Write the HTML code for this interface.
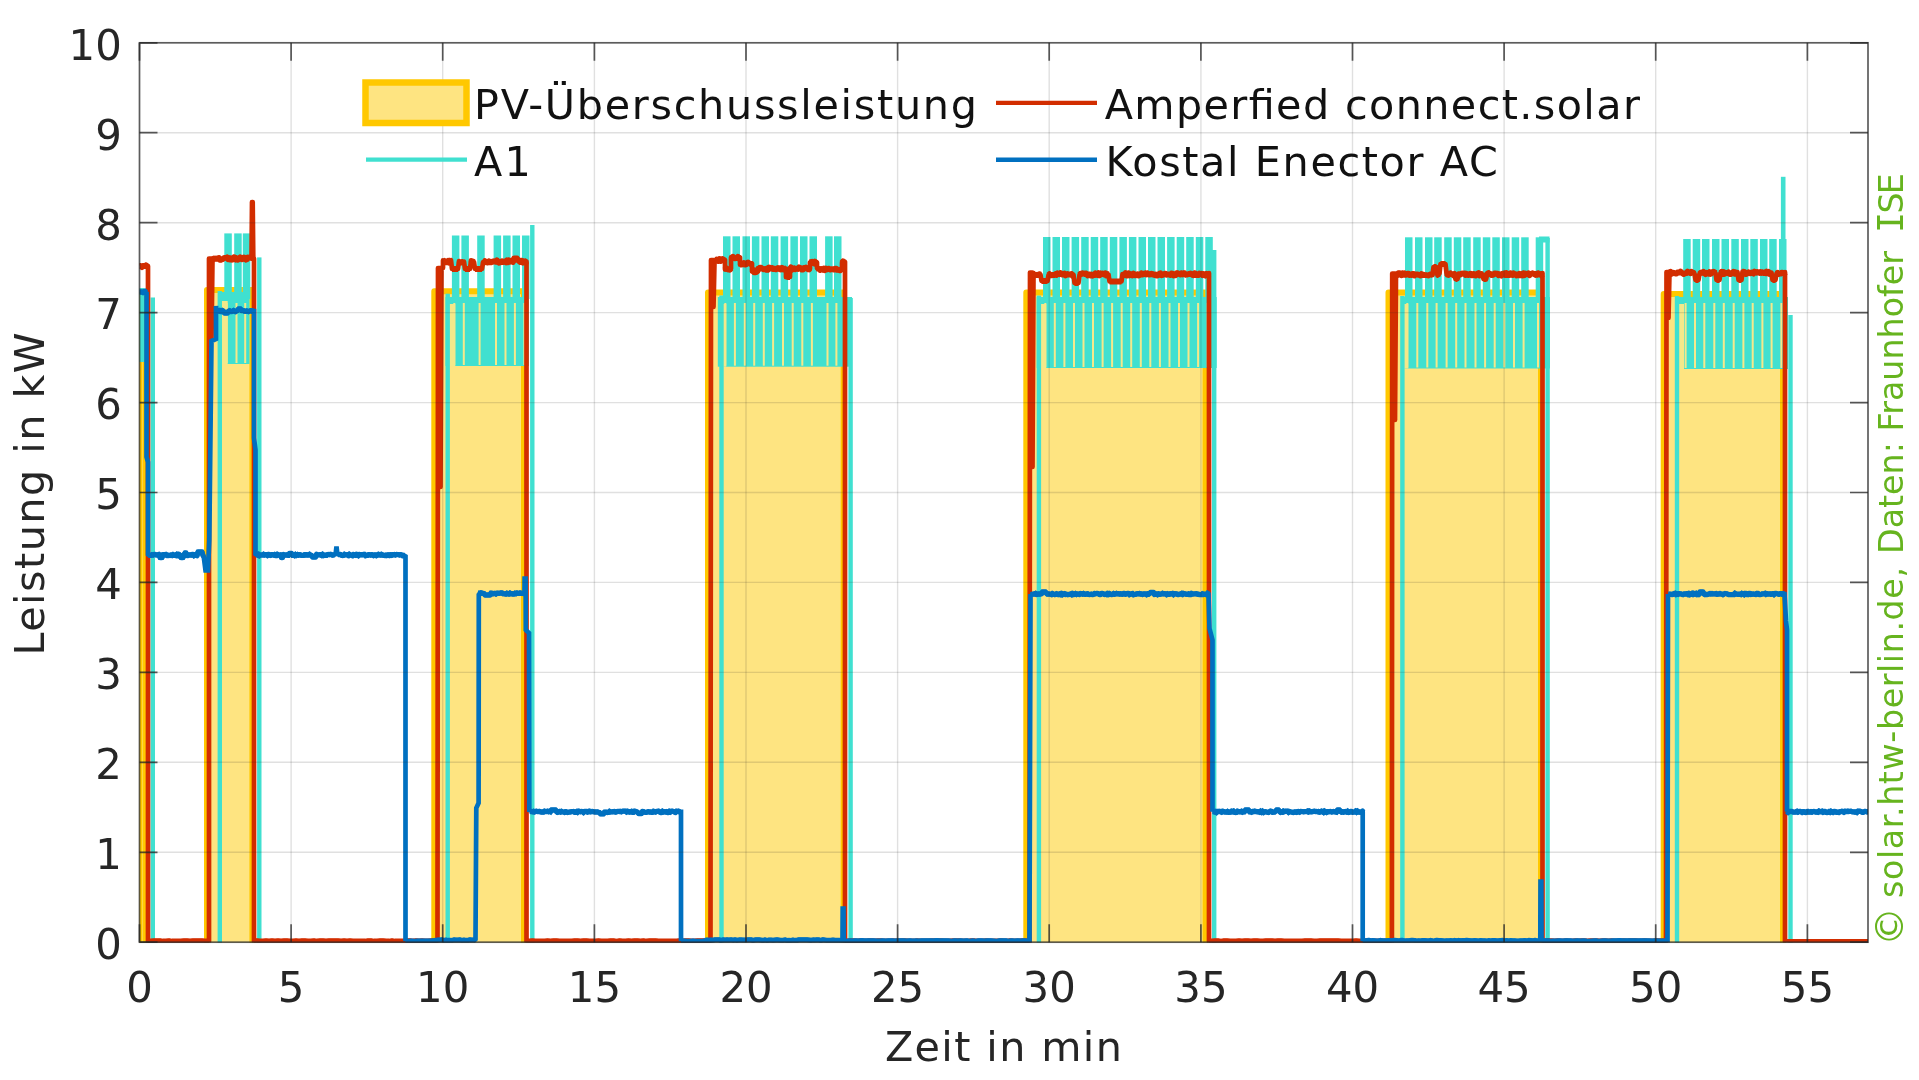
<!DOCTYPE html>
<html><head><meta charset="utf-8"><title>Leistung</title>
<style>html,body{margin:0;padding:0;background:#fff;overflow:hidden}svg{display:block;will-change:transform}</style>
</head><body>
<svg width="1919" height="1080" viewBox="0 0 1919 1080">
<rect width="1919" height="1080" fill="#fff"/>
<defs><clipPath id="cp"><rect x="139.5" y="42.8" width="1728.5" height="899.8"/></clipPath></defs>
<g clip-path="url(#cp)">
<g id="pv"><path d="M139.5 947.2 L139.5 295 L146 295 L146 947.2" fill="#FEE481" stroke="#FFC800" stroke-width="6" stroke-linejoin="round"/><path d="M207 947.2 L207 290 L252.4 290 L252.4 947.2" fill="#FEE481" stroke="#FFC800" stroke-width="6" stroke-linejoin="round"/><path d="M434.3 947.2 L434.3 291.2 L524 291.2 L524 947.2" fill="#FEE481" stroke="#FFC800" stroke-width="6" stroke-linejoin="round"/><path d="M708 947.2 L708 292.5 L843.7 292.5 L843.7 947.2" fill="#FEE481" stroke="#FFC800" stroke-width="6" stroke-linejoin="round"/><path d="M1026.3 947.2 L1026.3 292.5 L1205.6 292.5 L1205.6 947.2" fill="#FEE481" stroke="#FFC800" stroke-width="6" stroke-linejoin="round"/><path d="M1388.5 947.2 L1388.5 292.5 L1541 292.5 L1541 947.2" fill="#FEE481" stroke="#FFC800" stroke-width="6" stroke-linejoin="round"/><path d="M1663.7 947.2 L1663.7 294 L1783 294 L1783 947.2" fill="#FEE481" stroke="#FFC800" stroke-width="6" stroke-linejoin="round"/></g>
<g id="a1" fill="#40E0D0"><rect x="138.7" y="288" width="5.8" height="74"/><rect x="150.6" y="297.5" width="4.4" height="649.7"/><rect x="217.6" y="291" width="4.4" height="656.2"/><rect x="218.6" y="292" width="30.9" height="72"/><rect x="224.3" y="233.4" width="7.5" height="65.6"/><rect x="234.2" y="233.4" width="7.5" height="65.6"/><rect x="242.8" y="233.4" width="7.5" height="65.6"/><rect x="257.1" y="257.4" width="4.4" height="689.8"/><rect x="445.5" y="293.7" width="4.4" height="653.5"/><rect x="445.5" y="297" width="83.5" height="69"/><rect x="451.9" y="235.5" width="7.5" height="63.5"/><rect x="461.4" y="235.5" width="7.5" height="63.5"/><rect x="477.2" y="235.5" width="7.5" height="63.5"/><rect x="493.6" y="235.5" width="7.5" height="63.5"/><rect x="503.1" y="235.5" width="7.5" height="63.5"/><rect x="512.5" y="235.5" width="7.5" height="63.5"/><rect x="522" y="235.5" width="7.5" height="63.5"/><rect x="530.1" y="225" width="4.4" height="722.2"/><rect x="719.3" y="295.5" width="4.4" height="651.7"/><rect x="717.8" y="297" width="134.2" height="69.7"/><rect x="723" y="236.3" width="7.5" height="62.7"/><rect x="732.5" y="236.3" width="7.5" height="62.7"/><rect x="742.5" y="236.3" width="7.5" height="62.7"/><rect x="751.9" y="236.3" width="7.5" height="62.7"/><rect x="761.5" y="236.3" width="7.5" height="62.7"/><rect x="770.8" y="236.3" width="7.5" height="62.7"/><rect x="780.6" y="236.3" width="7.5" height="62.7"/><rect x="790.4" y="236.3" width="7.5" height="62.7"/><rect x="800" y="236.3" width="7.5" height="62.7"/><rect x="809.5" y="236.3" width="7.5" height="62.7"/><rect x="825.1" y="236.3" width="7.5" height="62.7"/><rect x="834" y="236.3" width="7.5" height="62.7"/><rect x="848.4" y="298" width="4.4" height="649.2"/><rect x="1036.7" y="295.6" width="4.4" height="651.6"/><rect x="1036.7" y="297" width="180" height="71"/><rect x="1043" y="237" width="7.5" height="62"/><rect x="1052.5" y="237" width="7.5" height="62"/><rect x="1062" y="237" width="7.5" height="62"/><rect x="1071.6" y="237" width="7.5" height="62"/><rect x="1081.2" y="237" width="7.5" height="62"/><rect x="1090.7" y="237" width="7.5" height="62"/><rect x="1100.2" y="237" width="7.5" height="62"/><rect x="1109.8" y="237" width="7.5" height="62"/><rect x="1119.4" y="237" width="7.5" height="62"/><rect x="1128.9" y="237" width="7.5" height="62"/><rect x="1138.5" y="237" width="7.5" height="62"/><rect x="1148" y="237" width="7.5" height="62"/><rect x="1157.5" y="237" width="7.5" height="62"/><rect x="1167.1" y="237" width="7.5" height="62"/><rect x="1176.7" y="237" width="7.5" height="62"/><rect x="1186.2" y="237" width="7.5" height="62"/><rect x="1195.8" y="237" width="7.5" height="62"/><rect x="1205.3" y="237" width="7.5" height="62"/><rect x="1212" y="250" width="4.4" height="697.2"/><rect x="1400.2" y="296" width="4.4" height="651.2"/><rect x="1401" y="297" width="149" height="71.5"/><rect x="1405" y="237.3" width="7.5" height="61.7"/><rect x="1415" y="237.3" width="7.5" height="61.7"/><rect x="1425" y="237.3" width="7.5" height="61.7"/><rect x="1434.2" y="237.3" width="7.5" height="61.7"/><rect x="1444.2" y="237.3" width="7.5" height="61.7"/><rect x="1453.8" y="237.3" width="7.5" height="61.7"/><rect x="1463.2" y="237.3" width="7.5" height="61.7"/><rect x="1473.2" y="237.3" width="7.5" height="61.7"/><rect x="1482.8" y="237.3" width="7.5" height="61.7"/><rect x="1492.3" y="237.3" width="7.5" height="61.7"/><rect x="1502" y="237.3" width="7.5" height="61.7"/><rect x="1511.7" y="237.3" width="7.5" height="61.7"/><rect x="1521.2" y="237.3" width="7.5" height="61.7"/><rect x="1535.7" y="237.3" width="7.5" height="61.7"/><rect x="1545.4" y="238" width="4.4" height="709.2"/><rect x="1674.8" y="296" width="4.4" height="651.2"/><rect x="1675" y="297" width="113" height="72"/><rect x="1683.2" y="239" width="7.5" height="60"/><rect x="1692.7" y="239" width="7.5" height="60"/><rect x="1702" y="239" width="7.5" height="60"/><rect x="1712" y="239" width="7.5" height="60"/><rect x="1721.5" y="239" width="7.5" height="60"/><rect x="1731.3" y="239" width="7.5" height="60"/><rect x="1741" y="239" width="7.5" height="60"/><rect x="1750.3" y="239" width="7.5" height="60"/><rect x="1760" y="239" width="7.5" height="60"/><rect x="1769.2" y="239" width="7.5" height="60"/><rect x="1779" y="239" width="7.5" height="60"/><rect x="1788.3" y="315" width="4.4" height="632.2"/><rect x="1780.9" y="176.8" width="4.6" height="119.2"/><rect x="1539" y="236.5" width="10.5" height="6"/></g>
<g id="gaps" fill="#F4E88A"><rect x="225.7" y="303" width="2" height="60"/><rect x="235.5" y="303" width="2" height="60"/><rect x="244.2" y="303" width="2" height="60"/><rect x="453.3" y="303" width="2" height="62"/><rect x="462.8" y="303" width="2" height="62"/><rect x="478.6" y="303" width="2" height="62"/><rect x="495" y="303" width="2" height="62"/><rect x="504.5" y="303" width="2" height="62"/><rect x="513.9" y="303" width="2" height="62"/><rect x="523.4" y="303" width="2" height="62"/><rect x="724.3" y="303" width="2" height="62.7"/><rect x="733.9" y="303" width="2" height="62.7"/><rect x="743.8" y="303" width="2" height="62.7"/><rect x="753.2" y="303" width="2" height="62.7"/><rect x="762.8" y="303" width="2" height="62.7"/><rect x="772.1" y="303" width="2" height="62.7"/><rect x="782" y="303" width="2" height="62.7"/><rect x="791.7" y="303" width="2" height="62.7"/><rect x="801.3" y="303" width="2" height="62.7"/><rect x="810.9" y="303" width="2" height="62.7"/><rect x="826.5" y="303" width="2" height="62.7"/><rect x="835.4" y="303" width="2" height="62.7"/><rect x="1044.3" y="303" width="2" height="64"/><rect x="1053.8" y="303" width="2" height="64"/><rect x="1063.4" y="303" width="2" height="64"/><rect x="1073" y="303" width="2" height="64"/><rect x="1082.5" y="303" width="2" height="64"/><rect x="1092" y="303" width="2" height="64"/><rect x="1101.6" y="303" width="2" height="64"/><rect x="1111.1" y="303" width="2" height="64"/><rect x="1120.7" y="303" width="2" height="64"/><rect x="1130.2" y="303" width="2" height="64"/><rect x="1139.8" y="303" width="2" height="64"/><rect x="1149.3" y="303" width="2" height="64"/><rect x="1158.9" y="303" width="2" height="64"/><rect x="1168.5" y="303" width="2" height="64"/><rect x="1178" y="303" width="2" height="64"/><rect x="1187.5" y="303" width="2" height="64"/><rect x="1197.1" y="303" width="2" height="64"/><rect x="1206.7" y="303" width="2" height="64"/><rect x="1406.3" y="303" width="2" height="64.5"/><rect x="1416.3" y="303" width="2" height="64.5"/><rect x="1426.3" y="303" width="2" height="64.5"/><rect x="1435.6" y="303" width="2" height="64.5"/><rect x="1445.6" y="303" width="2" height="64.5"/><rect x="1455.2" y="303" width="2" height="64.5"/><rect x="1464.5" y="303" width="2" height="64.5"/><rect x="1474.5" y="303" width="2" height="64.5"/><rect x="1484.1" y="303" width="2" height="64.5"/><rect x="1493.7" y="303" width="2" height="64.5"/><rect x="1503.3" y="303" width="2" height="64.5"/><rect x="1513" y="303" width="2" height="64.5"/><rect x="1522.6" y="303" width="2" height="64.5"/><rect x="1537" y="303" width="2" height="64.5"/><rect x="1684.6" y="303" width="2" height="65"/><rect x="1694" y="303" width="2" height="65"/><rect x="1703.3" y="303" width="2" height="65"/><rect x="1713.3" y="303" width="2" height="65"/><rect x="1722.8" y="303" width="2" height="65"/><rect x="1732.7" y="303" width="2" height="65"/><rect x="1742.4" y="303" width="2" height="65"/><rect x="1751.7" y="303" width="2" height="65"/><rect x="1761.4" y="303" width="2" height="65"/><rect x="1770.6" y="303" width="2" height="65"/><rect x="1780.4" y="303" width="2" height="65"/><rect x="222" y="301" width="5.7" height="63"/><rect x="449.9" y="304" width="5.4" height="62"/><rect x="723.7" y="304" width="2.6" height="62.7"/><rect x="1041.1" y="304" width="5.2" height="64"/><rect x="1404.6" y="304" width="3.7" height="64.5"/><rect x="1679.2" y="304" width="4.8" height="65"/></g>
<path d="M139.5 266 L140 265.9 L141 266.2 L142 267.1 L143 265.9 L144 266 L145 266.2 L146 265.2 L147 266 L147.5 266 L148 266 L148 941.3 L148 941.4 L151 941.4 L154 941.1 L157 941.2 L160 941.1 L163 941.5 L166 941.4 L169 941.1 L172 941.5 L175 941.5 L178 941.4 L181 941.4 L184 941.1 L187 941.1 L190 941.3 L193 941.1 L196 941.1 L199 941.2 L202 941.1 L205 941.3 L208 941.3 L209 941.3 L209 941.3 L209 258.5 L211.5 258.5 L211.5 339 L212.5 258.5 L213 259.4 L214 258.5 L215 258.9 L216 258.5 L217 258.9 L218 258.4 L219 257.9 L220 259.8 L221 259.8 L222 259.4 L223 259 L224 258 L225 257.8 L226 258 L227 257.4 L228 259.2 L229 258.2 L230 259.4 L231 258.2 L232 259.7 L233 259.4 L234 257.2 L235 257.7 L236 259.6 L237 258.4 L238 259.7 L239 258.2 L240 257.4 L241 258.8 L242 259.2 L243 257.9 L244 257.4 L245 258.1 L246 259.7 L247 259.2 L248 257.5 L249 257.8 L250 257.5 L251 257.4 L251.5 258.5 L252 202 L252.7 202 L253.3 258.5 L254 258.5 L254 941.3 L254 941.4 L257 941.1 L260 941.3 L263 941.3 L266 941.1 L269 941.4 L272 941.1 L275 941.4 L278 941.1 L281 941.3 L284 941.2 L287 941.2 L290 941.5 L293 941.5 L296 941.2 L299 941.5 L302 941.2 L305 941.2 L308 941.5 L311 941.4 L314 941.1 L317 941.5 L320 941.2 L323 941.2 L326 941.4 L329 941.2 L332 941.2 L335 941.1 L338 941.1 L341 941.3 L344 941.2 L347 941.4 L350 941.2 L353 941.3 L356 941.5 L359 941.3 L362 941.3 L365 941.5 L368 941.1 L371 941.1 L374 941.5 L377 941.5 L380 941.2 L383 941.1 L386 941.4 L389 941.5 L392 941.1 L395 941.5 L398 941.5 L401 941.4 L404 941.3 L407 941.1 L410 941.1 L413 941.5 L416 941.2 L419 941.4 L422 941.2 L425 941.5 L428 941.3 L431 941.2 L434 941.1 L437 941.4 L437.5 941.3 L437.5 941.3 L438 268 L440.5 268 L440.5 487 L441.5 268 L443 268 L443 261.5 L443 260.4 L444 260.8 L445 261.7 L446 262.4 L447 261.8 L448 260.9 L449 262.6 L450 260.7 L451 260.2 L452 269 L453 269 L454 269 L455 269 L456 269 L457 269 L458 269 L459 261.1 L460 262.5 L461 262.7 L462 261.9 L463 262 L464 261.7 L465 269 L466 269 L467 269 L468 269 L469 269 L470 269 L471 260.3 L472 261.9 L473 261.5 L474 262.1 L475 269 L476 269 L477 269 L478 269 L479 269 L480 269 L481 269 L482 269 L483 262.3 L484 262.6 L485 261.1 L486 262 L487 262.5 L488 262.5 L489 261.3 L490 262.3 L491 262.4 L492 261.7 L493 261.8 L494 261.2 L495 261.7 L496 261.8 L497 260.4 L498 261.9 L499 262.8 L500 262.5 L501 262.1 L502 261.2 L503 262.1 L504 261.7 L505 261.3 L506 262.4 L507 260.4 L508 262.2 L509 260.3 L510 261.8 L511 261.5 L512 260.8 L513 262 L514 258.5 L515 258.5 L516 258.5 L517 258.5 L518 260.2 L519 261 L520 262 L521 260.7 L522 260.6 L523 262.6 L524 261.9 L525 261.3 L526 262.5 L526.5 261.5 L526.5 262 L526.5 941.3 L526.5 941.2 L529.5 941.4 L532.5 941.1 L535.5 941.3 L538.5 941.5 L541.5 941.5 L544.5 941.5 L547.5 941.2 L550.5 941.3 L553.5 941.2 L556.5 941.1 L559.5 941.3 L562.5 941.5 L565.5 941.5 L568.5 941.4 L571.5 941.5 L574.5 941.2 L577.5 941.1 L580.5 941.3 L583.5 941.2 L586.5 941.2 L589.5 941.3 L592.5 941.4 L595.5 941.3 L598.5 941.2 L601.5 941.5 L604.5 941.5 L607.5 941.3 L610.5 941.1 L613.5 941.1 L616.5 941.5 L619.5 941.1 L622.5 941.4 L625.5 941.3 L628.5 941.2 L631.5 941.4 L634.5 941.1 L637.5 941.1 L640.5 941.3 L643.5 941.1 L646.5 941.5 L649.5 941.2 L652.5 941.1 L655.5 941.1 L658.5 941.4 L661.5 941.3 L664.5 941.4 L667.5 941.4 L670.5 941.5 L673.5 941.5 L676.5 941.4 L679.5 941.1 L682.5 941.3 L685.5 941.1 L688.5 941.1 L691.5 941.3 L694.5 941.4 L697.5 941.1 L700.5 941.2 L703.5 941.2 L706.5 941.4 L709.5 941.3 L710.5 941.3 L710.5 941.3 L711 260 L713.5 260 L713.5 307 L714.5 262 L714.5 260.3 L715.5 260.7 L716.5 259.7 L717.5 260.8 L718.5 261.1 L719.5 258.9 L720.5 261.1 L721.5 260.6 L722.5 259 L723.5 259.9 L724.5 260.3 L725 260 L725 269.6 L726 268.2 L727 268.7 L728 269.5 L729 269.3 L730 269.7 L731 268.5 L731 257.4 L732 257.9 L733 256.7 L734 258.1 L735 258.3 L736 257.9 L737 258.1 L738 256.8 L739 258.5 L740 257.5 L740 264.7 L741 264.7 L742 263.6 L743 264.3 L744 263 L745 264.6 L746 264.4 L747 263.1 L748 262.4 L749 263.3 L750 263.6 L751 264.2 L752 263.5 L752 271.5 L753 270.3 L754 272.3 L755 270.4 L756 272.3 L757 270.6 L758 271.5 L758 268.1 L759 269.2 L760 267.6 L761 267.6 L762 268.5 L763 269.1 L764 269.4 L765 269 L766 269.7 L767 268.5 L768 269.7 L769 267.4 L770 267.8 L771 268.6 L772 268 L773 269.1 L774 268.9 L775 268.6 L776 269.4 L777 268.7 L778 268 L779 268.2 L780 269.4 L781 269.5 L782 267.7 L783 269.4 L784 269.7 L785 268.6 L786 268.5 L786 277.2 L787 276.2 L788 277.1 L789 277 L790 277 L790 268.8 L791 267.3 L792 269.7 L793 268.5 L794 268.2 L795 269.3 L796 268.7 L797 268.5 L798 269 L799 267.4 L800 268.6 L801 268.3 L802 269.7 L803 269.6 L804 267.9 L805 268.4 L806 267.5 L807 268.3 L808 269.3 L809 269.5 L810 268.5 L810 262.4 L811 262 L812 261.7 L813 262.8 L814 263.6 L815 261.5 L816 263.2 L817 262.5 L817 268.3 L818 268.7 L819 268.8 L820 270 L821 269 L822 269.1 L823 269.8 L824 268.5 L825 270.1 L826 268.5 L827 269.5 L828 268.9 L829 268.7 L830 269.6 L831 269.3 L832 269.2 L833 269.3 L834 269.6 L835 268.6 L836 268.7 L837 269.8 L838 269.9 L839 269.6 L840 270.4 L841 269.8 L842 269.5 L842 262.9 L843 261.3 L844 262.6 L845 262 L845 941.3 L845 941.5 L848 941.5 L851 941.2 L854 941.2 L857 941.5 L860 941.2 L863 941.5 L866 941.5 L869 941.1 L872 941.2 L875 941.4 L878 941.2 L881 941.1 L884 941.5 L887 941.3 L890 941.4 L893 941.1 L896 941.3 L899 941.4 L902 941.1 L905 941.2 L908 941.4 L911 941.5 L914 941.5 L917 941.1 L920 941.3 L923 941.4 L926 941.3 L929 941.4 L932 941.1 L935 941.1 L938 941.1 L941 941.1 L944 941.3 L947 941.3 L950 941.3 L953 941.1 L956 941.1 L959 941.2 L962 941.5 L965 941.5 L968 941.5 L971 941.1 L974 941.1 L977 941.5 L980 941.3 L983 941.4 L986 941.2 L989 941.3 L992 941.3 L995 941.3 L998 941.4 L1001 941.1 L1004 941.4 L1007 941.5 L1010 941.1 L1013 941.3 L1016 941.4 L1019 941.3 L1022 941.1 L1025 941.1 L1028 941.3 L1029.5 941.3 L1029.5 941.3 L1030 272.5 L1032.5 272.5 L1032.5 467 L1033.5 273.5 L1033.5 273 L1034.5 275.3 L1035.5 275.1 L1036.5 274.8 L1037.5 275.2 L1038.5 274.6 L1039.5 274.1 L1040.5 274.6 L1041.5 281 L1042.5 281 L1043.5 281 L1044.5 281 L1045.5 281 L1046.5 281 L1047.5 281 L1048.5 275.1 L1049.5 274.1 L1050.5 275.3 L1051.5 275.3 L1052.5 274.8 L1053.5 275 L1054.5 275 L1055.5 274.1 L1056.5 274.9 L1057.5 273.2 L1058.5 273.9 L1059.5 274.2 L1060.5 273 L1061.5 273.9 L1062.5 274.7 L1063.5 274.6 L1064.5 273.6 L1065.5 275.5 L1066.5 274.7 L1067.5 273.9 L1068.5 274.7 L1069.5 274.5 L1070.5 274.4 L1071.5 274 L1072.5 275.6 L1073.5 274.7 L1074.5 283 L1075.5 283 L1076.5 283 L1077.5 283 L1078.5 283 L1079.5 274.9 L1080.5 273.7 L1081.5 274 L1082.5 273.1 L1083.5 273.5 L1084.5 274 L1085.5 273.3 L1086.5 273.7 L1087.5 275.4 L1088.5 274.4 L1089.5 274.3 L1090.5 275.5 L1091.5 274.5 L1092.5 275.6 L1093.5 274.7 L1094.5 275.1 L1095.5 273.2 L1096.5 274.6 L1097.5 275 L1098.5 273.1 L1099.5 275.4 L1100.5 273.4 L1101.5 274.2 L1102.5 273.4 L1103.5 274.3 L1104.5 274.6 L1105.5 273.2 L1106.5 275.5 L1107.5 274.1 L1108.5 274.4 L1109.5 281.5 L1110.5 281.5 L1111.5 281.5 L1112.5 281.5 L1113.5 281.5 L1114.5 281.5 L1115.5 281.5 L1116.5 281.5 L1117.5 281.5 L1118.5 281.5 L1119.5 281.5 L1120.5 281.5 L1121.5 281.5 L1122.5 274 L1123.5 275.3 L1124.5 274.9 L1125.5 273.1 L1126.5 275.6 L1127.5 275.5 L1128.5 273.2 L1129.5 275.4 L1130.5 274.1 L1131.5 274.2 L1132.5 275.5 L1133.5 273.6 L1134.5 274.4 L1135.5 275.4 L1136.5 274.9 L1137.5 274.2 L1138.5 275.5 L1139.5 275.1 L1140.5 274.6 L1141.5 273.3 L1142.5 274.6 L1143.5 274.2 L1144.5 273.5 L1145.5 273.1 L1146.5 274.4 L1147.5 273.3 L1148.5 274.2 L1149.5 274.7 L1150.5 274.2 L1151.5 273.7 L1152.5 274.5 L1153.5 274.1 L1154.5 275 L1155.5 274.4 L1156.5 275.6 L1157.5 275.5 L1158.5 274.9 L1159.5 273.6 L1160.5 273.3 L1161.5 275.3 L1162.5 275 L1163.5 274.6 L1164.5 273.9 L1165.5 273.7 L1166.5 274.8 L1167.5 274.5 L1168.5 274.5 L1169.5 274.6 L1170.5 275 L1171.5 273.5 L1172.5 273.6 L1173.5 275.5 L1174.5 275.4 L1175.5 275.3 L1176.5 273.1 L1177.5 273.2 L1178.5 273.7 L1179.5 274.1 L1180.5 274.6 L1181.5 273.3 L1182.5 274.4 L1183.5 273.2 L1184.5 273.2 L1185.5 274.8 L1186.5 274.4 L1187.5 274.6 L1188.5 274 L1189.5 274.2 L1190.5 273.5 L1191.5 273.9 L1192.5 274.9 L1193.5 275.2 L1194.5 273.2 L1195.5 273.3 L1196.5 275.1 L1197.5 274.6 L1198.5 275 L1199.5 273.6 L1200.5 274.1 L1201.5 273.7 L1202.5 275.1 L1203.5 274 L1204.5 274.7 L1205.5 275.6 L1206.5 273.8 L1207.5 274.4 L1208.5 274.9 L1209 274.3 L1209 273 L1209 941.3 L1209 941.5 L1212 941.3 L1215 941.2 L1218 941.1 L1221 941.5 L1224 941.1 L1227 941.1 L1230 941.3 L1233 941.3 L1236 941.4 L1239 941.2 L1242 941.4 L1245 941.1 L1248 941.2 L1251 941.4 L1254 941.1 L1257 941.2 L1260 941.4 L1263 941.4 L1266 941.2 L1269 941.1 L1272 941.2 L1275 941.4 L1278 941.2 L1281 941.1 L1284 941.4 L1287 941.3 L1290 941.5 L1293 941.5 L1296 941.5 L1299 941.3 L1302 941.5 L1305 941.2 L1308 941.2 L1311 941.2 L1314 941.5 L1317 941.5 L1320 941.2 L1323 941.2 L1326 941.2 L1329 941.2 L1332 941.2 L1335 941.2 L1338 941.1 L1341 941.3 L1344 941.4 L1347 941.3 L1350 941.5 L1353 941.3 L1356 941.1 L1359 941.4 L1362 941.5 L1365 941.2 L1368 941.1 L1371 941.3 L1374 941.3 L1377 941.3 L1380 941.5 L1383 941.4 L1386 941.5 L1389 941.1 L1391.9 941.3 L1391.9 941.3 L1392.2 273.5 L1395 273.5 L1395 420 L1396 273.5 L1396.5 274.4 L1397.5 275 L1398.5 273.2 L1399.5 273.2 L1400.5 274.9 L1401.5 275.3 L1402.5 273.2 L1403.5 274.6 L1404.5 273.4 L1405.5 274.9 L1406.5 274.7 L1407.5 273.6 L1408.5 273.6 L1409.5 275 L1410.5 274.4 L1411.5 275 L1412.5 274 L1413.5 273.9 L1414.5 275.5 L1415.5 274.7 L1416.5 274.3 L1417.5 274.4 L1418.5 274.9 L1419.5 274.8 L1420.5 275.4 L1421.5 274.1 L1422.5 275.1 L1423.5 274.7 L1424.5 275.2 L1425.5 275.1 L1426.5 275.2 L1427.5 275.3 L1428.5 275.5 L1429.5 274.7 L1430.5 274.4 L1431.5 274.8 L1432.5 275.1 L1433.5 267 L1434.5 267 L1435.5 267 L1436.5 267 L1437.5 275.6 L1438.5 274 L1439.5 273.4 L1440.5 264 L1441.5 264 L1442.5 264 L1443.5 264 L1444.5 264 L1445.5 264 L1446.5 273.3 L1447.5 274.7 L1448.5 275 L1449.5 273.5 L1450.5 273.2 L1451.5 274.2 L1452.5 274.5 L1453.5 275.4 L1454.5 273.1 L1455.5 279 L1456.5 279 L1457.5 279 L1458.5 273.6 L1459.5 274.9 L1460.5 274.5 L1461.5 273.6 L1462.5 273.5 L1463.5 273.7 L1464.5 273.4 L1465.5 275 L1466.5 273.8 L1467.5 274.4 L1468.5 275.1 L1469.5 274.2 L1470.5 273.7 L1471.5 275.3 L1472.5 275.4 L1473.5 273.9 L1474.5 274.4 L1475.5 275.5 L1476.5 274.3 L1477.5 273.6 L1478.5 273.1 L1479.5 275.5 L1480.5 275.1 L1481.5 274 L1482.5 274.4 L1483.5 279 L1484.5 279 L1485.5 279 L1486.5 274.7 L1487.5 273.6 L1488.5 273 L1489.5 274.2 L1490.5 274 L1491.5 275.1 L1492.5 274.9 L1493.5 274.6 L1494.5 273.4 L1495.5 273.4 L1496.5 273.8 L1497.5 273.7 L1498.5 275.3 L1499.5 274.3 L1500.5 274.7 L1501.5 275.6 L1502.5 273.7 L1503.5 274.4 L1504.5 273.4 L1505.5 275 L1506.5 273 L1507.5 275.1 L1508.5 275.2 L1509.5 275.1 L1510.5 273.2 L1511.5 273.7 L1512.5 274.9 L1513.5 273.3 L1514.5 274.2 L1515.5 274.2 L1516.5 275.5 L1517.5 274.5 L1518.5 275.2 L1519.5 273.8 L1520.5 275.1 L1521.5 274.1 L1522.5 275.4 L1523.5 273.2 L1524.5 275.1 L1525.5 273.5 L1526.5 274.4 L1527.5 274.4 L1528.5 273.4 L1529.5 275.2 L1530.5 273.8 L1531.5 273.8 L1532.5 273.2 L1533.5 273.8 L1534.5 274.2 L1535.5 274.9 L1536.5 273.9 L1537.5 274.8 L1538.5 273.3 L1539.5 274 L1540.5 274.2 L1541.5 275.5 L1542.5 274.3 L1542.5 273 L1542.5 941.3 L1542.5 941.5 L1545.5 941.4 L1548.5 941.1 L1551.5 941.2 L1554.5 941.4 L1557.5 941.2 L1560.5 941.3 L1563.5 941.3 L1566.5 941.1 L1569.5 941.5 L1572.5 941.4 L1575.5 941.2 L1578.5 941.4 L1581.5 941.2 L1584.5 941.2 L1587.5 941.3 L1590.5 941.2 L1593.5 941.2 L1596.5 941.2 L1599.5 941.4 L1602.5 941.2 L1605.5 941.1 L1608.5 941.4 L1611.5 941.2 L1614.5 941.5 L1617.5 941.3 L1620.5 941.4 L1623.5 941.2 L1626.5 941.5 L1629.5 941.1 L1632.5 941.1 L1635.5 941.1 L1638.5 941.4 L1641.5 941.4 L1644.5 941.1 L1647.5 941.3 L1650.5 941.5 L1653.5 941.3 L1656.5 941.1 L1659.5 941.2 L1662.5 941.1 L1665.5 941.1 L1666 941.3 L1666 941.3 L1666.5 272 L1668.5 272 L1668.5 318 L1669.5 272.5 L1669.5 272.6 L1670.5 271.7 L1671.5 273.9 L1672.5 272.6 L1673.5 272.8 L1674.5 273.2 L1675.5 273.5 L1676.5 273.6 L1677.5 272.5 L1678.5 272.4 L1679.5 272.6 L1680.5 271.5 L1681.5 272.5 L1682.5 273.3 L1683.5 274.1 L1684.5 273.6 L1685.5 273.2 L1686.5 273.1 L1687.5 271.5 L1688.5 272.4 L1689.5 272.4 L1690.5 273.2 L1691.5 271.8 L1692.5 272.5 L1693.5 272.8 L1694.5 273.6 L1695.5 280 L1696.5 280 L1697.5 280 L1698.5 280 L1699.5 273.8 L1700.5 272.9 L1701.5 272.4 L1702.5 272.8 L1703.5 271.9 L1704.5 273.4 L1705.5 274.1 L1706.5 272.8 L1707.5 273.4 L1708.5 273.7 L1709.5 272 L1710.5 274 L1711.5 273.1 L1712.5 272 L1713.5 271.7 L1714.5 272.1 L1715.5 273 L1716.5 280 L1717.5 280 L1718.5 280 L1719.5 280 L1720.5 272.7 L1721.5 271.8 L1722.5 274 L1723.5 271.9 L1724.5 273.9 L1725.5 272.9 L1726.5 273 L1727.5 273 L1728.5 272.2 L1729.5 273.9 L1730.5 274.1 L1731.5 273.6 L1732.5 273.1 L1733.5 271.8 L1734.5 273.6 L1735.5 272.3 L1736.5 273.8 L1737.5 272.1 L1738.5 280 L1739.5 280 L1740.5 280 L1741.5 280 L1742.5 271.7 L1743.5 271.6 L1744.5 272 L1745.5 274.1 L1746.5 273.9 L1747.5 273.2 L1748.5 272.3 L1749.5 273.2 L1750.5 273.4 L1751.5 272.5 L1752.5 273 L1753.5 273.6 L1754.5 271.5 L1755.5 272 L1756.5 272.7 L1757.5 271.9 L1758.5 272.5 L1759.5 273 L1760.5 272 L1761.5 272.9 L1762.5 272.2 L1763.5 273 L1764.5 272.4 L1765.5 273.2 L1766.5 271.6 L1767.5 273.2 L1768.5 271.9 L1769.5 274 L1770.5 273.1 L1771.5 272.7 L1772.5 280 L1773.5 280 L1774.5 280 L1775.5 280 L1776.5 273.5 L1777.5 272.8 L1778.5 274.1 L1779.5 273.7 L1780.5 273.7 L1781.5 272.6 L1782.5 272.6 L1783.5 273 L1784.5 273.9 L1785 272.8 L1785 272 L1785 941.3 L1870 941.3" fill="none" stroke="#D22D00" stroke-width="4.7" stroke-linejoin="round"/>
<path d="M139.5 266 L140 265.9 L141 266.2 L142 267.1 L143 265.9 L144 266 L145 266.2 L146 265.2 L147 266 L147.5 266 L148 266 M148 941.4 L151 941.4 L154 941.1 L157 941.2 L160 941.1 L163 941.5 L166 941.4 L169 941.1 L172 941.5 L175 941.5 L178 941.4 L181 941.4 L184 941.1 L187 941.1 L190 941.3 L193 941.1 L196 941.1 L199 941.2 L202 941.1 L205 941.3 L208 941.3 L209 941.3 M212.5 258.5 L213 259.4 L214 258.5 L215 258.9 L216 258.5 L217 258.9 L218 258.4 L219 257.9 L220 259.8 L221 259.8 L222 259.4 L223 259 L224 258 L225 257.8 L226 258 L227 257.4 L228 259.2 L229 258.2 L230 259.4 L231 258.2 L232 259.7 L233 259.4 L234 257.2 L235 257.7 L236 259.6 L237 258.4 L238 259.7 L239 258.2 L240 257.4 L241 258.8 L242 259.2 L243 257.9 L244 257.4 L245 258.1 L246 259.7 L247 259.2 L248 257.5 L249 257.8 L250 257.5 L251 257.4 L251.5 258.5 M254 941.4 L257 941.1 L260 941.3 L263 941.3 L266 941.1 L269 941.4 L272 941.1 L275 941.4 L278 941.1 L281 941.3 L284 941.2 L287 941.2 L290 941.5 L293 941.5 L296 941.2 L299 941.5 L302 941.2 L305 941.2 L308 941.5 L311 941.4 L314 941.1 L317 941.5 L320 941.2 L323 941.2 L326 941.4 L329 941.2 L332 941.2 L335 941.1 L338 941.1 L341 941.3 L344 941.2 L347 941.4 L350 941.2 L353 941.3 L356 941.5 L359 941.3 L362 941.3 L365 941.5 L368 941.1 L371 941.1 L374 941.5 L377 941.5 L380 941.2 L383 941.1 L386 941.4 L389 941.5 L392 941.1 L395 941.5 L398 941.5 L401 941.4 L404 941.3 L407 941.1 L410 941.1 L413 941.5 L416 941.2 L419 941.4 L422 941.2 L425 941.5 L428 941.3 L431 941.2 L434 941.1 L437 941.4 L437.5 941.3 M443 260.4 L444 260.8 L445 261.7 L446 262.4 L447 261.8 L448 260.9 L449 262.6 L450 260.7 L451 260.2 M452 269 L453 269 L454 269 L455 269 L456 269 L457 269 L458 269 M459 261.1 L460 262.5 L461 262.7 L462 261.9 L463 262 L464 261.7 M465 269 L466 269 L467 269 L468 269 L469 269 L470 269 M471 260.3 L472 261.9 L473 261.5 L474 262.1 M475 269 L476 269 L477 269 L478 269 L479 269 L480 269 L481 269 L482 269 M483 262.3 L484 262.6 L485 261.1 L486 262 L487 262.5 L488 262.5 L489 261.3 L490 262.3 L491 262.4 L492 261.7 L493 261.8 L494 261.2 L495 261.7 L496 261.8 L497 260.4 L498 261.9 L499 262.8 L500 262.5 L501 262.1 L502 261.2 L503 262.1 L504 261.7 L505 261.3 L506 262.4 L507 260.4 L508 262.2 L509 260.3 L510 261.8 L511 261.5 L512 260.8 L513 262 L514 258.5 L515 258.5 L516 258.5 L517 258.5 L518 260.2 L519 261 L520 262 L521 260.7 L522 260.6 L523 262.6 L524 261.9 L525 261.3 L526 262.5 L526.5 261.5 M526.5 941.2 L529.5 941.4 L532.5 941.1 L535.5 941.3 L538.5 941.5 L541.5 941.5 L544.5 941.5 L547.5 941.2 L550.5 941.3 L553.5 941.2 L556.5 941.1 L559.5 941.3 L562.5 941.5 L565.5 941.5 L568.5 941.4 L571.5 941.5 L574.5 941.2 L577.5 941.1 L580.5 941.3 L583.5 941.2 L586.5 941.2 L589.5 941.3 L592.5 941.4 L595.5 941.3 L598.5 941.2 L601.5 941.5 L604.5 941.5 L607.5 941.3 L610.5 941.1 L613.5 941.1 L616.5 941.5 L619.5 941.1 L622.5 941.4 L625.5 941.3 L628.5 941.2 L631.5 941.4 L634.5 941.1 L637.5 941.1 L640.5 941.3 L643.5 941.1 L646.5 941.5 L649.5 941.2 L652.5 941.1 L655.5 941.1 L658.5 941.4 L661.5 941.3 L664.5 941.4 L667.5 941.4 L670.5 941.5 L673.5 941.5 L676.5 941.4 L679.5 941.1 L682.5 941.3 L685.5 941.1 L688.5 941.1 L691.5 941.3 L694.5 941.4 L697.5 941.1 L700.5 941.2 L703.5 941.2 L706.5 941.4 L709.5 941.3 L710.5 941.3 M714.5 260.3 L715.5 260.7 L716.5 259.7 L717.5 260.8 L718.5 261.1 L719.5 258.9 L720.5 261.1 L721.5 260.6 L722.5 259 L723.5 259.9 L724.5 260.3 L725 260 M725 269.6 L726 268.2 L727 268.7 L728 269.5 L729 269.3 L730 269.7 L731 268.5 M731 257.4 L732 257.9 L733 256.7 L734 258.1 L735 258.3 L736 257.9 L737 258.1 L738 256.8 L739 258.5 L740 257.5 M740 264.7 L741 264.7 L742 263.6 L743 264.3 L744 263 L745 264.6 L746 264.4 L747 263.1 L748 262.4 L749 263.3 L750 263.6 L751 264.2 L752 263.5 M752 271.5 L753 270.3 L754 272.3 L755 270.4 L756 272.3 L757 270.6 L758 271.5 M758 268.1 L759 269.2 L760 267.6 L761 267.6 L762 268.5 L763 269.1 L764 269.4 L765 269 L766 269.7 L767 268.5 L768 269.7 L769 267.4 L770 267.8 L771 268.6 L772 268 L773 269.1 L774 268.9 L775 268.6 L776 269.4 L777 268.7 L778 268 L779 268.2 L780 269.4 L781 269.5 L782 267.7 L783 269.4 L784 269.7 L785 268.6 L786 268.5 M786 277.2 L787 276.2 L788 277.1 L789 277 L790 277 M790 268.8 L791 267.3 L792 269.7 L793 268.5 L794 268.2 L795 269.3 L796 268.7 L797 268.5 L798 269 L799 267.4 L800 268.6 L801 268.3 L802 269.7 L803 269.6 L804 267.9 L805 268.4 L806 267.5 L807 268.3 L808 269.3 L809 269.5 L810 268.5 M810 262.4 L811 262 L812 261.7 L813 262.8 L814 263.6 L815 261.5 L816 263.2 L817 262.5 M817 268.3 L818 268.7 L819 268.8 L820 270 L821 269 L822 269.1 L823 269.8 L824 268.5 L825 270.1 L826 268.5 L827 269.5 L828 268.9 L829 268.7 L830 269.6 L831 269.3 L832 269.2 L833 269.3 L834 269.6 L835 268.6 L836 268.7 L837 269.8 L838 269.9 L839 269.6 L840 270.4 L841 269.8 L842 269.5 M842 262.9 L843 261.3 L844 262.6 L845 262 M845 941.5 L848 941.5 L851 941.2 L854 941.2 L857 941.5 L860 941.2 L863 941.5 L866 941.5 L869 941.1 L872 941.2 L875 941.4 L878 941.2 L881 941.1 L884 941.5 L887 941.3 L890 941.4 L893 941.1 L896 941.3 L899 941.4 L902 941.1 L905 941.2 L908 941.4 L911 941.5 L914 941.5 L917 941.1 L920 941.3 L923 941.4 L926 941.3 L929 941.4 L932 941.1 L935 941.1 L938 941.1 L941 941.1 L944 941.3 L947 941.3 L950 941.3 L953 941.1 L956 941.1 L959 941.2 L962 941.5 L965 941.5 L968 941.5 L971 941.1 L974 941.1 L977 941.5 L980 941.3 L983 941.4 L986 941.2 L989 941.3 L992 941.3 L995 941.3 L998 941.4 L1001 941.1 L1004 941.4 L1007 941.5 L1010 941.1 L1013 941.3 L1016 941.4 L1019 941.3 L1022 941.1 L1025 941.1 L1028 941.3 L1029.5 941.3 M1033.5 273 L1034.5 275.3 L1035.5 275.1 L1036.5 274.8 L1037.5 275.2 L1038.5 274.6 L1039.5 274.1 L1040.5 274.6 M1041.5 281 L1042.5 281 L1043.5 281 L1044.5 281 L1045.5 281 L1046.5 281 L1047.5 281 M1048.5 275.1 L1049.5 274.1 L1050.5 275.3 L1051.5 275.3 L1052.5 274.8 L1053.5 275 L1054.5 275 L1055.5 274.1 L1056.5 274.9 L1057.5 273.2 L1058.5 273.9 L1059.5 274.2 L1060.5 273 L1061.5 273.9 L1062.5 274.7 L1063.5 274.6 L1064.5 273.6 L1065.5 275.5 L1066.5 274.7 L1067.5 273.9 L1068.5 274.7 L1069.5 274.5 L1070.5 274.4 L1071.5 274 L1072.5 275.6 L1073.5 274.7 M1074.5 283 L1075.5 283 L1076.5 283 L1077.5 283 L1078.5 283 M1079.5 274.9 L1080.5 273.7 L1081.5 274 L1082.5 273.1 L1083.5 273.5 L1084.5 274 L1085.5 273.3 L1086.5 273.7 L1087.5 275.4 L1088.5 274.4 L1089.5 274.3 L1090.5 275.5 L1091.5 274.5 L1092.5 275.6 L1093.5 274.7 L1094.5 275.1 L1095.5 273.2 L1096.5 274.6 L1097.5 275 L1098.5 273.1 L1099.5 275.4 L1100.5 273.4 L1101.5 274.2 L1102.5 273.4 L1103.5 274.3 L1104.5 274.6 L1105.5 273.2 L1106.5 275.5 L1107.5 274.1 L1108.5 274.4 M1109.5 281.5 L1110.5 281.5 L1111.5 281.5 L1112.5 281.5 L1113.5 281.5 L1114.5 281.5 L1115.5 281.5 L1116.5 281.5 L1117.5 281.5 L1118.5 281.5 L1119.5 281.5 L1120.5 281.5 L1121.5 281.5 M1122.5 274 L1123.5 275.3 L1124.5 274.9 L1125.5 273.1 L1126.5 275.6 L1127.5 275.5 L1128.5 273.2 L1129.5 275.4 L1130.5 274.1 L1131.5 274.2 L1132.5 275.5 L1133.5 273.6 L1134.5 274.4 L1135.5 275.4 L1136.5 274.9 L1137.5 274.2 L1138.5 275.5 L1139.5 275.1 L1140.5 274.6 L1141.5 273.3 L1142.5 274.6 L1143.5 274.2 L1144.5 273.5 L1145.5 273.1 L1146.5 274.4 L1147.5 273.3 L1148.5 274.2 L1149.5 274.7 L1150.5 274.2 L1151.5 273.7 L1152.5 274.5 L1153.5 274.1 L1154.5 275 L1155.5 274.4 L1156.5 275.6 L1157.5 275.5 L1158.5 274.9 L1159.5 273.6 L1160.5 273.3 L1161.5 275.3 L1162.5 275 L1163.5 274.6 L1164.5 273.9 L1165.5 273.7 L1166.5 274.8 L1167.5 274.5 L1168.5 274.5 L1169.5 274.6 L1170.5 275 L1171.5 273.5 L1172.5 273.6 L1173.5 275.5 L1174.5 275.4 L1175.5 275.3 L1176.5 273.1 L1177.5 273.2 L1178.5 273.7 L1179.5 274.1 L1180.5 274.6 L1181.5 273.3 L1182.5 274.4 L1183.5 273.2 L1184.5 273.2 L1185.5 274.8 L1186.5 274.4 L1187.5 274.6 L1188.5 274 L1189.5 274.2 L1190.5 273.5 L1191.5 273.9 L1192.5 274.9 L1193.5 275.2 L1194.5 273.2 L1195.5 273.3 L1196.5 275.1 L1197.5 274.6 L1198.5 275 L1199.5 273.6 L1200.5 274.1 L1201.5 273.7 L1202.5 275.1 L1203.5 274 L1204.5 274.7 L1205.5 275.6 L1206.5 273.8 L1207.5 274.4 L1208.5 274.9 L1209 274.3 M1209 941.5 L1212 941.3 L1215 941.2 L1218 941.1 L1221 941.5 L1224 941.1 L1227 941.1 L1230 941.3 L1233 941.3 L1236 941.4 L1239 941.2 L1242 941.4 L1245 941.1 L1248 941.2 L1251 941.4 L1254 941.1 L1257 941.2 L1260 941.4 L1263 941.4 L1266 941.2 L1269 941.1 L1272 941.2 L1275 941.4 L1278 941.2 L1281 941.1 L1284 941.4 L1287 941.3 L1290 941.5 L1293 941.5 L1296 941.5 L1299 941.3 L1302 941.5 L1305 941.2 L1308 941.2 L1311 941.2 L1314 941.5 L1317 941.5 L1320 941.2 L1323 941.2 L1326 941.2 L1329 941.2 L1332 941.2 L1335 941.2 L1338 941.1 L1341 941.3 L1344 941.4 L1347 941.3 L1350 941.5 L1353 941.3 L1356 941.1 L1359 941.4 L1362 941.5 L1365 941.2 L1368 941.1 L1371 941.3 L1374 941.3 L1377 941.3 L1380 941.5 L1383 941.4 L1386 941.5 L1389 941.1 L1391.9 941.3 M1396 273.5 L1396.5 274.4 L1397.5 275 L1398.5 273.2 L1399.5 273.2 L1400.5 274.9 L1401.5 275.3 L1402.5 273.2 L1403.5 274.6 L1404.5 273.4 L1405.5 274.9 L1406.5 274.7 L1407.5 273.6 L1408.5 273.6 L1409.5 275 L1410.5 274.4 L1411.5 275 L1412.5 274 L1413.5 273.9 L1414.5 275.5 L1415.5 274.7 L1416.5 274.3 L1417.5 274.4 L1418.5 274.9 L1419.5 274.8 L1420.5 275.4 L1421.5 274.1 L1422.5 275.1 L1423.5 274.7 L1424.5 275.2 L1425.5 275.1 L1426.5 275.2 L1427.5 275.3 L1428.5 275.5 L1429.5 274.7 L1430.5 274.4 L1431.5 274.8 L1432.5 275.1 M1433.5 267 L1434.5 267 L1435.5 267 L1436.5 267 M1437.5 275.6 L1438.5 274 L1439.5 273.4 M1440.5 264 L1441.5 264 L1442.5 264 L1443.5 264 L1444.5 264 L1445.5 264 M1446.5 273.3 L1447.5 274.7 L1448.5 275 L1449.5 273.5 L1450.5 273.2 L1451.5 274.2 L1452.5 274.5 L1453.5 275.4 L1454.5 273.1 M1455.5 279 L1456.5 279 L1457.5 279 M1458.5 273.6 L1459.5 274.9 L1460.5 274.5 L1461.5 273.6 L1462.5 273.5 L1463.5 273.7 L1464.5 273.4 L1465.5 275 L1466.5 273.8 L1467.5 274.4 L1468.5 275.1 L1469.5 274.2 L1470.5 273.7 L1471.5 275.3 L1472.5 275.4 L1473.5 273.9 L1474.5 274.4 L1475.5 275.5 L1476.5 274.3 L1477.5 273.6 L1478.5 273.1 L1479.5 275.5 L1480.5 275.1 L1481.5 274 L1482.5 274.4 M1483.5 279 L1484.5 279 L1485.5 279 L1486.5 274.7 L1487.5 273.6 L1488.5 273 L1489.5 274.2 L1490.5 274 L1491.5 275.1 L1492.5 274.9 L1493.5 274.6 L1494.5 273.4 L1495.5 273.4 L1496.5 273.8 L1497.5 273.7 L1498.5 275.3 L1499.5 274.3 L1500.5 274.7 L1501.5 275.6 L1502.5 273.7 L1503.5 274.4 L1504.5 273.4 L1505.5 275 L1506.5 273 L1507.5 275.1 L1508.5 275.2 L1509.5 275.1 L1510.5 273.2 L1511.5 273.7 L1512.5 274.9 L1513.5 273.3 L1514.5 274.2 L1515.5 274.2 L1516.5 275.5 L1517.5 274.5 L1518.5 275.2 L1519.5 273.8 L1520.5 275.1 L1521.5 274.1 L1522.5 275.4 L1523.5 273.2 L1524.5 275.1 L1525.5 273.5 L1526.5 274.4 L1527.5 274.4 L1528.5 273.4 L1529.5 275.2 L1530.5 273.8 L1531.5 273.8 L1532.5 273.2 L1533.5 273.8 L1534.5 274.2 L1535.5 274.9 L1536.5 273.9 L1537.5 274.8 L1538.5 273.3 L1539.5 274 L1540.5 274.2 L1541.5 275.5 L1542.5 274.3 M1542.5 941.5 L1545.5 941.4 L1548.5 941.1 L1551.5 941.2 L1554.5 941.4 L1557.5 941.2 L1560.5 941.3 L1563.5 941.3 L1566.5 941.1 L1569.5 941.5 L1572.5 941.4 L1575.5 941.2 L1578.5 941.4 L1581.5 941.2 L1584.5 941.2 L1587.5 941.3 L1590.5 941.2 L1593.5 941.2 L1596.5 941.2 L1599.5 941.4 L1602.5 941.2 L1605.5 941.1 L1608.5 941.4 L1611.5 941.2 L1614.5 941.5 L1617.5 941.3 L1620.5 941.4 L1623.5 941.2 L1626.5 941.5 L1629.5 941.1 L1632.5 941.1 L1635.5 941.1 L1638.5 941.4 L1641.5 941.4 L1644.5 941.1 L1647.5 941.3 L1650.5 941.5 L1653.5 941.3 L1656.5 941.1 L1659.5 941.2 L1662.5 941.1 L1665.5 941.1 L1666 941.3 M1669.5 272.6 L1670.5 271.7 L1671.5 273.9 L1672.5 272.6 L1673.5 272.8 L1674.5 273.2 L1675.5 273.5 L1676.5 273.6 L1677.5 272.5 L1678.5 272.4 L1679.5 272.6 L1680.5 271.5 L1681.5 272.5 L1682.5 273.3 L1683.5 274.1 L1684.5 273.6 L1685.5 273.2 L1686.5 273.1 L1687.5 271.5 L1688.5 272.4 L1689.5 272.4 L1690.5 273.2 L1691.5 271.8 L1692.5 272.5 L1693.5 272.8 L1694.5 273.6 M1695.5 280 L1696.5 280 L1697.5 280 L1698.5 280 M1699.5 273.8 L1700.5 272.9 L1701.5 272.4 L1702.5 272.8 L1703.5 271.9 L1704.5 273.4 L1705.5 274.1 L1706.5 272.8 L1707.5 273.4 L1708.5 273.7 L1709.5 272 L1710.5 274 L1711.5 273.1 L1712.5 272 L1713.5 271.7 L1714.5 272.1 L1715.5 273 M1716.5 280 L1717.5 280 L1718.5 280 L1719.5 280 M1720.5 272.7 L1721.5 271.8 L1722.5 274 L1723.5 271.9 L1724.5 273.9 L1725.5 272.9 L1726.5 273 L1727.5 273 L1728.5 272.2 L1729.5 273.9 L1730.5 274.1 L1731.5 273.6 L1732.5 273.1 L1733.5 271.8 L1734.5 273.6 L1735.5 272.3 L1736.5 273.8 L1737.5 272.1 M1738.5 280 L1739.5 280 L1740.5 280 L1741.5 280 M1742.5 271.7 L1743.5 271.6 L1744.5 272 L1745.5 274.1 L1746.5 273.9 L1747.5 273.2 L1748.5 272.3 L1749.5 273.2 L1750.5 273.4 L1751.5 272.5 L1752.5 273 L1753.5 273.6 L1754.5 271.5 L1755.5 272 L1756.5 272.7 L1757.5 271.9 L1758.5 272.5 L1759.5 273 L1760.5 272 L1761.5 272.9 L1762.5 272.2 L1763.5 273 L1764.5 272.4 L1765.5 273.2 L1766.5 271.6 L1767.5 273.2 L1768.5 271.9 L1769.5 274 L1770.5 273.1 L1771.5 272.7 M1772.5 280 L1773.5 280 L1774.5 280 L1775.5 280 M1776.5 273.5 L1777.5 272.8 L1778.5 274.1 L1779.5 273.7 L1780.5 273.7 L1781.5 272.6 L1782.5 272.6 L1783.5 273 L1784.5 273.9 L1785 272.8" fill="none" stroke="#D22D00" stroke-width="5.8" stroke-linejoin="round"/>
<path d="M139.5 292 L140 292 L141 292 L142 291.9 L143 292.6 L144 291.7 L145 291.3 L146 292.3 L146.5 292 L146.5 457 L148 462 L148 555 L148 555.6 L149 555.3 L150 555.1 L151 555.4 L152 554.7 L153 555.1 L154 554.4 L155 554.4 L156 554.9 L157 555 L158 554.8 L159 554.3 L160 557.5 L161 557.5 L162 557.5 L163 554.7 L164 554.8 L165 554.6 L166 554.4 L167 555.6 L168 555.7 L169 555.2 L170 555.5 L171 554.9 L172 555.5 L173 554.6 L174 555.4 L175 555.1 L176 555.6 L177 554.4 L178 555.4 L179 554.4 L180 555.1 L181 557.5 L182 557.5 L183 557.5 L184 554.7 L185 553 L186 553 L187 555.6 L188 555.5 L189 554.8 L190 554.8 L191 555.1 L192 554.3 L193 554.3 L194 555.6 L195 554.7 L196 555 L197 555.7 L198 552 L199 552 L200 552 L201 552 L202 552 L203 555.6 L203.5 555 L203.5 555 L205.5 570.5 L208 570.5 L209.3 540 L211.5 341 L216 339 L216 306 L216.5 311 L215.5 310.5 L216.5 311.5 L217.5 310.8 L218.5 311 L219.5 310.5 L220.5 311.6 L221.5 311.7 L222.5 310.6 L223.5 311.2 L224.5 313 L225.5 313 L226.5 313 L227.5 313 L228.5 311.3 L229.5 310.7 L230.5 311.6 L231.5 311.6 L232.5 311.3 L233.5 310.5 L234.5 311.3 L235.5 311.7 L236.5 310.9 L237.5 310.4 L238.5 309 L239.5 309 L240.5 309 L241.5 310.5 L242.5 310.5 L243.5 310.6 L244.5 311.2 L245.5 311.4 L246.5 310.8 L247.5 311.2 L248.5 311.6 L249.5 311.1 L250.5 310.6 L251.5 310.7 L252.5 311.6 L253.5 311 L254 311 L254 438 L255.5 450 L255.5 555 L255.5 555.3 L256.5 554.7 L257.5 555.2 L258.5 554.4 L259.5 555.7 L260.5 554.9 L261.5 555 L262.5 555 L263.5 554.3 L264.5 555.1 L265.5 554.7 L266.5 554.6 L267.5 555.5 L268.5 554.4 L269.5 554.7 L270.5 555.4 L271.5 554.6 L272.5 554.7 L273.5 555.1 L274.5 554.5 L275.5 555.6 L276.5 555.7 L277.5 554.3 L278.5 554.9 L279.5 555.4 L280.5 554.8 L281.5 557.5 L282.5 557.5 L283.5 554.5 L284.5 555.1 L285.5 555.2 L286.5 554.8 L287.5 555.2 L288.5 555.4 L289.5 553.5 L290.5 553.5 L291.5 553.5 L292.5 555.3 L293.5 555 L294.5 555.7 L295.5 554.5 L296.5 555.4 L297.5 554.5 L298.5 555.2 L299.5 554.6 L300.5 554.9 L301.5 555.4 L302.5 555.4 L303.5 555.4 L304.5 554.6 L305.5 555 L306.5 554.6 L307.5 555.1 L308.5 555 L309.5 554.3 L310.5 555.1 L311.5 555.3 L312.5 557 L313.5 557 L314.5 557 L315.5 557 L316.5 554.3 L317.5 555 L318.5 554.9 L319.5 554.9 L320.5 554.6 L321.5 555.4 L322.5 554.4 L323.5 555.6 L324.5 555.1 L325.5 555.1 L326.5 555.4 L327.5 554.6 L328.5 554.5 L329.5 554.7 L330.5 554.3 L331.5 554.7 L332.5 555.2 L333.5 555 L334.5 554.6 L335.5 555.1 L336.5 546.5 L337.5 555.5 L338.5 554.5 L339.5 554.6 L340.5 554.5 L341.5 555.3 L342.5 555.5 L343.5 555.4 L344.5 554.3 L345.5 554.9 L346.5 554.8 L347.5 554.6 L348.5 555.7 L349.5 554.3 L350.5 555 L351.5 555.4 L352.5 555.7 L353.5 554.5 L354.5 554.9 L355.5 555.4 L356.5 554.3 L357.5 554.6 L358.5 555.6 L359.5 554.5 L360.5 554.8 L361.5 554.7 L362.5 554.9 L363.5 554.4 L364.5 554.3 L365.5 555.7 L366.5 555.4 L367.5 555.4 L368.5 554.6 L369.5 554.6 L370.5 555.1 L371.5 554.6 L372.5 554.9 L373.5 555.6 L374.5 554.8 L375.5 554.8 L376.5 555.7 L377.5 555.2 L378.5 554.3 L379.5 554.9 L380.5 555.2 L381.5 554.3 L382.5 554.8 L383.5 555.3 L384.5 555.5 L385.5 555.1 L386.5 555.6 L387.5 554.9 L388.5 554.8 L389.5 555.5 L390.5 554.8 L391.5 555.4 L392.5 554.6 L393.5 554.8 L394.5 554.5 L395.5 555.1 L396.5 554.5 L397.5 554.6 L398.5 554.6 L399.5 555 L400.5 554.7 L401.5 554.9 L402.5 555.7 L403.5 555.3 L404.5 555.5 L405.5 555 L405.5 941.3 L405.5 941.2 L408.5 941.3 L411.5 941.1 L414.5 941.4 L417.5 941.2 L420.5 941.2 L423.5 941.1 L426.5 941.2 L429.5 941.2 L432.5 941.3 L434 941.3 L434 940.6 L436 940.5 L438 940.1 L440 940.2 L442 940 L444 940.6 L446 940.2 L448 940.5 L450 940.5 L452 940.6 L454 939.9 L456 940.2 L458 940.2 L460 940 L462 940.6 L464 940.2 L466 940.5 L468 940.3 L470 939.9 L472 940.2 L474 940.1 L475.5 940.3 L476.3 808 L478.6 803 L478.8 593.5 L478 592.8 L479 593 L480 593.6 L481 592.8 L482 593.2 L483 593.4 L484 593.6 L485 595 L486 595 L487 595 L488 595 L489 595 L490 595 L491 593.1 L492 593.2 L493 593.8 L494 593.4 L495 593.3 L496 594 L497 593.1 L498 593.2 L499 593.3 L500 593.1 L501 592.8 L502 592.8 L503 593.7 L504 593.6 L505 594 L506 594.2 L507 593.2 L508 593.8 L509 594.1 L510 593.1 L511 593.8 L512 593.7 L513 594.2 L514 594.1 L515 593.1 L516 593.7 L517 592.9 L518 593.4 L519 593.3 L520 592.8 L521 593.3 L522 593.2 L523 593.5 L524 593.5 L524.5 593.5 L524.6 578.5 L525.6 578.5 L525.8 630 L529 633 L529.3 811.8 L529.5 811.5 L530.5 811.3 L531.5 811.7 L532.5 811.8 L533.5 811.3 L534.5 812 L535.5 811.4 L536.5 811.2 L537.5 811.6 L538.5 811.7 L539.5 811.3 L540.5 811.9 L541.5 812.1 L542.5 811.9 L543.5 812.1 L544.5 811.1 L545.5 811.6 L546.5 811.6 L547.5 811.1 L548.5 811.7 L549.5 811.1 L550.5 811.8 L551.5 810 L552.5 810 L553.5 810 L554.5 810 L555.5 810 L556.5 811.6 L557.5 812.4 L558.5 811.9 L559.5 811.4 L560.5 812.1 L561.5 811.3 L562.5 811.8 L563.5 812 L564.5 812.5 L565.5 811.6 L566.5 811.9 L567.5 812.5 L568.5 812.2 L569.5 812 L570.5 812 L571.5 811.7 L572.5 811.7 L573.5 811.5 L574.5 812.3 L575.5 812.4 L576.5 811.6 L577.5 812.4 L578.5 811.1 L579.5 811.3 L580.5 811.8 L581.5 811.5 L582.5 811.6 L583.5 812.5 L584.5 811.3 L585.5 811.3 L586.5 811.4 L587.5 812.1 L588.5 811.4 L589.5 811.1 L590.5 811.9 L591.5 811.6 L592.5 811.4 L593.5 811.8 L594.5 812 L595.5 811.9 L596.5 812 L597.5 811.9 L598.5 812.3 L599.5 812.5 L600.5 813.8 L601.5 813.8 L602.5 813.8 L603.5 813.8 L604.5 812.1 L605.5 812.1 L606.5 812.1 L607.5 812.5 L608.5 812.3 L609.5 811.3 L610.5 812 L611.5 811.8 L612.5 811.9 L613.5 811.6 L614.5 811.5 L615.5 812.2 L616.5 811.9 L617.5 811.4 L618.5 811.4 L619.5 811.5 L620.5 811.3 L621.5 811.8 L622.5 811.2 L623.5 811.1 L624.5 811.2 L625.5 811.2 L626.5 812.1 L627.5 811.2 L628.5 811.7 L629.5 812.2 L630.5 811.8 L631.5 811.3 L632.5 812.3 L633.5 812.4 L634.5 811.1 L635.5 811.4 L636.5 811.8 L637.5 812.2 L638.5 813.5 L639.5 813.5 L640.5 813.5 L641.5 813.5 L642.5 811.5 L643.5 811.6 L644.5 812.2 L645.5 812.3 L646.5 812.3 L647.5 811.9 L648.5 811.7 L649.5 812.1 L650.5 812 L651.5 812.3 L652.5 812.3 L653.5 811.2 L654.5 811.6 L655.5 812.1 L656.5 811.4 L657.5 811.3 L658.5 811.1 L659.5 811.9 L660.5 812.5 L661.5 812.5 L662.5 811.3 L663.5 812.1 L664.5 811.7 L665.5 812 L666.5 811.6 L667.5 812.5 L668.5 812.5 L669.5 811.1 L670.5 812.1 L671.5 811.2 L672.5 811.1 L673.5 811.5 L674.5 812.1 L675.5 812.5 L676.5 811.2 L677.5 811.5 L678.5 811.1 L679.5 811.9 L680.5 811.8 L681 811.8 L681 941.3 L681 941.2 L684 941.2 L687 941.4 L690 941.4 L693 941.2 L696 941.3 L699 941.3 L702 941.4 L705 941.3 L705 940.6 L707 940.1 L709 940.4 L711 940.2 L713 940.4 L715 939.9 L717 939.9 L719 939.9 L721 940.5 L723 940 L725 940.2 L727 939.9 L729 940.1 L731 939.8 L733 940.3 L735 939.9 L737 940.3 L739 940 L741 940 L743 940.2 L745 940.1 L747 940 L749 939.8 L751 939.9 L753 940.5 L755 940 L757 939.9 L759 939.9 L761 940.2 L763 940.6 L765 940 L767 940.5 L769 940.2 L771 940.1 L773 940.4 L775 940.1 L777 939.8 L779 940.2 L781 940.3 L783 940.3 L785 940 L787 940.6 L789 940.5 L791 940.6 L793 940.2 L795 940.5 L797 940.4 L799 939.9 L801 939.8 L803 939.9 L805 939.9 L807 939.9 L809 940.1 L811 940.4 L813 940 L815 940.2 L817 939.8 L819 940 L821 940.6 L823 939.8 L825 940.2 L827 940.4 L829 940.4 L831 940.4 L833 940.1 L835 940.4 L837 940.5 L839 940.4 L841 940.6 L842.5 940.2 L842.7 908.5 L843.5 908.5 L843.7 940.5 L843.7 940.8 L846.7 941.3 L849.7 940.9 L852.7 941.1 L855.7 940.9 L858.7 941.2 L861.7 940.7 L864.7 941 L867.7 940.8 L870.7 940.9 L873.7 940.9 L876.7 941.1 L879.7 941.2 L882.7 940.9 L885.7 941.1 L888.7 940.9 L891.7 940.9 L894.7 941.2 L897.7 940.9 L900.7 940.8 L903.7 940.9 L906.7 941.1 L909.7 940.8 L912.7 941.1 L915.7 941 L918.7 941.1 L921.7 940.8 L924.7 940.8 L927.7 940.8 L930.7 940.9 L933.7 941 L936.7 940.7 L939.7 941 L942.7 940.9 L945.7 940.9 L948.7 941 L951.7 941.3 L954.7 940.8 L957.7 941.2 L960.7 940.9 L963.7 941.2 L966.7 940.8 L969.7 941.3 L972.7 941 L975.7 941.3 L978.7 940.8 L981.7 940.9 L984.7 941.1 L987.7 940.8 L990.7 940.9 L993.7 941.1 L996.7 941.3 L999.7 940.9 L1002.7 940.8 L1005.7 940.9 L1008.7 941.3 L1011.7 940.8 L1014.7 941.1 L1017.7 940.9 L1020.7 941.1 L1023.7 940.8 L1026.7 941.1 L1029.5 941 L1030.5 594 L1030.5 594.6 L1031.5 594.5 L1032.5 594.2 L1033.5 594 L1034.5 594.1 L1035.5 593.4 L1036.5 594.5 L1037.5 594.3 L1038.5 593.9 L1039.5 594.2 L1040.5 593.9 L1041.5 593.8 L1042.5 592 L1043.5 592 L1044.5 592 L1045.5 592 L1046.5 593.3 L1047.5 594.2 L1048.5 593.9 L1049.5 594.1 L1050.5 594.1 L1051.5 594.6 L1052.5 593.5 L1053.5 594 L1054.5 594.7 L1055.5 594.4 L1056.5 593.7 L1057.5 594.4 L1058.5 594.7 L1059.5 593.9 L1060.5 594.6 L1061.5 593.4 L1062.5 594.7 L1063.5 594 L1064.5 593.6 L1065.5 594.5 L1066.5 594.2 L1067.5 594.7 L1068.5 594.5 L1069.5 594.4 L1070.5 594 L1071.5 594.7 L1072.5 593.3 L1073.5 594.6 L1074.5 594.3 L1075.5 593.6 L1076.5 594.5 L1077.5 593.9 L1078.5 594.1 L1079.5 594.5 L1080.5 593.5 L1081.5 593.7 L1082.5 594.2 L1083.5 593.4 L1084.5 594.1 L1085.5 594.4 L1086.5 594 L1087.5 593.6 L1088.5 594.4 L1089.5 594.5 L1090.5 594.4 L1091.5 594.1 L1092.5 594.6 L1093.5 594.4 L1094.5 593.5 L1095.5 593.8 L1096.5 593.4 L1097.5 593.3 L1098.5 593.8 L1099.5 594.5 L1100.5 594.5 L1101.5 593.4 L1102.5 593.5 L1103.5 593.8 L1104.5 594.5 L1105.5 594.2 L1106.5 594.6 L1107.5 593.4 L1108.5 594.7 L1109.5 593.6 L1110.5 594.2 L1111.5 594.6 L1112.5 594.3 L1113.5 593.5 L1114.5 594.3 L1115.5 593.9 L1116.5 593.3 L1117.5 593.8 L1118.5 593.7 L1119.5 594.2 L1120.5 593.7 L1121.5 594.2 L1122.5 594.3 L1123.5 593.5 L1124.5 593.4 L1125.5 594.3 L1126.5 593.9 L1127.5 593.4 L1128.5 593.4 L1129.5 594.7 L1130.5 594.2 L1131.5 593.8 L1132.5 593.5 L1133.5 594.7 L1134.5 594.3 L1135.5 594.4 L1136.5 593.8 L1137.5 593.7 L1138.5 593.9 L1139.5 593.5 L1140.5 594.2 L1141.5 593.9 L1142.5 594.5 L1143.5 593.9 L1144.5 593.9 L1145.5 594 L1146.5 594.7 L1147.5 593.8 L1148.5 594.3 L1149.5 593.6 L1150.5 592.5 L1151.5 592.5 L1152.5 592.5 L1153.5 592.5 L1154.5 594.5 L1155.5 594.3 L1156.5 593.9 L1157.5 594.7 L1158.5 593.8 L1159.5 594.4 L1160.5 594.2 L1161.5 593.9 L1162.5 593.3 L1163.5 593.9 L1164.5 593.7 L1165.5 593.9 L1166.5 594.7 L1167.5 593.7 L1168.5 594.3 L1169.5 594.3 L1170.5 593.6 L1171.5 593.9 L1172.5 593.4 L1173.5 594.6 L1174.5 593.6 L1175.5 593.9 L1176.5 593.8 L1177.5 594.5 L1178.5 594.5 L1179.5 594.1 L1180.5 594.1 L1181.5 593.4 L1182.5 594.6 L1183.5 593.4 L1184.5 593.8 L1185.5 593.8 L1186.5 594.3 L1187.5 594.3 L1188.5 593.8 L1189.5 594.6 L1190.5 594.7 L1191.5 593.3 L1192.5 594.2 L1193.5 594 L1194.5 593.8 L1195.5 593.9 L1196.5 593.7 L1197.5 594.3 L1198.5 594.2 L1199.5 594.7 L1200.5 594.7 L1201.5 594.7 L1202.5 593.8 L1203.5 594.5 L1204.5 594.2 L1205.5 594.3 L1206.5 594.7 L1207.5 593.3 L1208.5 594 L1209.5 628.5 L1212.5 640 L1212.5 811.8 L1212.5 811.7 L1213.5 811.7 L1214.5 812 L1215.5 811.4 L1216.5 812.5 L1217.5 811.4 L1218.5 811.6 L1219.5 811.3 L1220.5 811.6 L1221.5 812.2 L1222.5 811.2 L1223.5 811.3 L1224.5 812 L1225.5 812 L1226.5 812.2 L1227.5 811.4 L1228.5 812.3 L1229.5 812.1 L1230.5 812.2 L1231.5 811.2 L1232.5 811.8 L1233.5 811.1 L1234.5 812.3 L1235.5 812.5 L1236.5 812.4 L1237.5 811.1 L1238.5 811.6 L1239.5 811.9 L1240.5 811.9 L1241.5 811.2 L1242.5 812.2 L1243.5 811.5 L1244.5 811.8 L1245.5 810 L1246.5 810 L1247.5 810 L1248.5 810 L1249.5 811.8 L1250.5 811.5 L1251.5 812.2 L1252.5 811.4 L1253.5 811.7 L1254.5 811.1 L1255.5 811.4 L1256.5 811.7 L1257.5 811.9 L1258.5 811.7 L1259.5 812.3 L1260.5 811.2 L1261.5 812.3 L1262.5 811.3 L1263.5 812.5 L1264.5 811.8 L1265.5 811.7 L1266.5 812 L1267.5 812.3 L1268.5 812.5 L1269.5 811.7 L1270.5 811.1 L1271.5 811.3 L1272.5 812.3 L1273.5 812.2 L1274.5 812.1 L1275.5 811.3 L1276.5 810 L1277.5 810 L1278.5 810 L1279.5 811.5 L1280.5 812.5 L1281.5 812 L1282.5 812.3 L1283.5 811.1 L1284.5 811.7 L1285.5 811.2 L1286.5 811.4 L1287.5 811.2 L1288.5 812.4 L1289.5 811.5 L1290.5 811.8 L1291.5 812 L1292.5 812.4 L1293.5 812.5 L1294.5 811.9 L1295.5 811.8 L1296.5 812.4 L1297.5 811.6 L1298.5 811.5 L1299.5 812.2 L1300.5 811.4 L1301.5 811.6 L1302.5 811.7 L1303.5 811.8 L1304.5 811.6 L1305.5 811.7 L1306.5 811.7 L1307.5 811.1 L1308.5 812.3 L1309.5 811.1 L1310.5 811.8 L1311.5 811.9 L1312.5 811.6 L1313.5 811.4 L1314.5 811.2 L1315.5 811.6 L1316.5 811.5 L1317.5 811.8 L1318.5 811.4 L1319.5 812.2 L1320.5 811.8 L1321.5 811.1 L1322.5 811.7 L1323.5 812.5 L1324.5 811.1 L1325.5 811.9 L1326.5 812.5 L1327.5 811.6 L1328.5 811.9 L1329.5 811.6 L1330.5 811.5 L1331.5 812 L1332.5 811.9 L1333.5 811.5 L1334.5 811.8 L1335.5 811.8 L1336.5 812.2 L1337.5 810 L1338.5 810 L1339.5 810 L1340.5 811.5 L1341.5 812.2 L1342.5 811.7 L1343.5 812.3 L1344.5 811.7 L1345.5 811.5 L1346.5 812.1 L1347.5 811.2 L1348.5 812.5 L1349.5 812.3 L1350.5 811.5 L1351.5 811.5 L1352.5 812.3 L1353.5 812.2 L1354.5 812 L1355.5 811.1 L1356.5 812.2 L1357.5 811.1 L1358.5 812 L1359.5 811.9 L1360.5 812.4 L1361.5 812 L1362.5 811.1 L1362.7 811.8 L1362.7 941.3 L1362.7 941.1 L1364.7 941 L1366.7 940.9 L1368.7 940.4 L1370.7 941 L1372.7 940.7 L1374.7 940.9 L1376.7 941.2 L1378.7 941.1 L1380.7 940.5 L1382.7 941 L1384.7 940.8 L1386.7 941 L1388.7 940.7 L1390.7 940.8 L1392.7 940.7 L1394.7 940.5 L1396.7 940.7 L1398.7 941 L1400.7 940.5 L1402.7 940.5 L1404.7 941.1 L1406.7 940.9 L1408.7 940.8 L1410.7 940.5 L1412.7 940.5 L1414.7 940.6 L1416.7 941.2 L1418.7 940.8 L1420.7 941.1 L1422.7 940.6 L1424.7 940.7 L1426.7 940.8 L1428.7 941.1 L1430.7 940.5 L1432.7 941.1 L1434.7 940.8 L1436.7 940.4 L1438.7 940.7 L1440.7 940.7 L1442.7 940.9 L1444.7 941.1 L1446.7 940.8 L1448.7 941 L1450.7 940.7 L1452.7 941 L1454.7 940.5 L1456.7 941 L1458.7 940.5 L1460.7 940.9 L1462.7 940.6 L1464.7 940.7 L1466.7 940.5 L1468.7 940.7 L1470.7 940.9 L1472.7 940.8 L1474.7 940.7 L1476.7 940.9 L1478.7 941.1 L1480.7 940.7 L1482.7 940.9 L1484.7 940.8 L1486.7 941.2 L1488.7 940.7 L1490.7 941 L1492.7 940.6 L1494.7 940.6 L1496.7 941 L1498.7 940.9 L1500.7 940.6 L1502.7 940.5 L1504.7 941.1 L1506.7 940.7 L1508.7 941 L1510.7 940.7 L1512.7 940.9 L1514.7 940.8 L1516.7 941.2 L1518.7 941.1 L1520.7 940.8 L1522.7 940.8 L1524.7 940.6 L1526.7 941 L1528.7 940.5 L1530.7 940.6 L1532.7 941.1 L1534.7 940.4 L1536.7 941 L1538.7 940.9 L1540.3 940.8 L1540.5 881.5 L1541.3 881.5 L1541.5 940.8 L1541.5 941 L1544.5 940.9 L1547.5 940.8 L1550.5 941.3 L1553.5 941.2 L1556.5 941.2 L1559.5 940.8 L1562.5 941.2 L1565.5 940.8 L1568.5 940.8 L1571.5 941 L1574.5 941.1 L1577.5 940.8 L1580.5 941.2 L1583.5 941 L1586.5 941.2 L1589.5 941.3 L1592.5 941.1 L1595.5 940.9 L1598.5 941.3 L1601.5 941.1 L1604.5 940.9 L1607.5 941.2 L1610.5 941.1 L1613.5 940.9 L1616.5 940.8 L1619.5 940.7 L1622.5 941 L1625.5 940.9 L1628.5 940.9 L1631.5 940.9 L1634.5 940.8 L1637.5 941 L1640.5 940.9 L1643.5 940.9 L1646.5 940.9 L1649.5 941 L1652.5 941.2 L1655.5 940.8 L1658.5 941.2 L1661.5 941.2 L1664.5 941.1 L1667.5 941 L1668 594 L1668 594.1 L1669 594.4 L1670 594.1 L1671 594.2 L1672 594.6 L1673 594.4 L1674 593.6 L1675 593.3 L1676 594.7 L1677 593.8 L1678 594.4 L1679 593.6 L1680 593.9 L1681 593.8 L1682 594.3 L1683 594.7 L1684 594 L1685 594.1 L1686 593.8 L1687 593.6 L1688 594.7 L1689 593.4 L1690 594.7 L1691 594.2 L1692 593.4 L1693 594.6 L1694 593.4 L1695 594.1 L1696 593.4 L1697 594.7 L1698 593.7 L1699 594.6 L1700 592 L1701 592 L1702 592 L1703 592 L1704 594.1 L1705 594.7 L1706 594.3 L1707 594.5 L1708 594.4 L1709 594 L1710 593.4 L1711 594 L1712 593.5 L1713 594 L1714 593.8 L1715 594 L1716 593.5 L1717 594.3 L1718 593.9 L1719 594 L1720 593.4 L1721 594 L1722 594.1 L1723 594.7 L1724 594.1 L1725 593.5 L1726 593.7 L1727 593.8 L1728 594.3 L1729 594.7 L1730 594.7 L1731 594.7 L1732 594.6 L1733 594.5 L1734 594.7 L1735 593.3 L1736 594 L1737 594.1 L1738 594.3 L1739 594.2 L1740 594.2 L1741 594.6 L1742 593.4 L1743 594 L1744 594.7 L1745 593.3 L1746 593.4 L1747 594.6 L1748 594.7 L1749 593.3 L1750 593.3 L1751 594.5 L1752 594.3 L1753 594 L1754 594.1 L1755 594.4 L1756 594.5 L1757 593.3 L1758 593.4 L1759 594.4 L1760 594.7 L1761 594.5 L1762 593.9 L1763 593.8 L1764 593.8 L1765 593.3 L1766 594.4 L1767 593.6 L1768 594.1 L1769 594 L1770 593.8 L1771 594.3 L1772 593.9 L1773 593.6 L1774 594.6 L1775 593.5 L1776 593.5 L1777 593.6 L1778 594 L1779 594.4 L1780 593.7 L1781 593.6 L1782 594.2 L1783 593.6 L1784 594 L1784.5 594 L1786 621 L1787 630 L1787 811.8 L1787 811.4 L1788 812.4 L1789 811.3 L1790 811.4 L1791 811.5 L1792 811.5 L1793 812.1 L1794 812.1 L1795 812.2 L1796 811.9 L1797 811.2 L1798 812.2 L1799 811.4 L1800 811.4 L1801 811.7 L1802 812.5 L1803 811.6 L1804 811.6 L1805 812.4 L1806 812.5 L1807 811.6 L1808 811.3 L1809 812.2 L1810 812.2 L1811 811.6 L1812 812.2 L1813 811.6 L1814 811.5 L1815 811.9 L1816 812.2 L1817 811.8 L1818 812.3 L1819 811.1 L1820 811.8 L1821 811.6 L1822 811.1 L1823 812.4 L1824 811.3 L1825 811.4 L1826 812.4 L1827 812.5 L1828 812.4 L1829 811.6 L1830 812.4 L1831 811.3 L1832 812.1 L1833 812.5 L1834 811.3 L1835 811.3 L1836 812.1 L1837 812.4 L1838 812.1 L1839 812.5 L1840 811.7 L1841 811.6 L1842 811.2 L1843 811.5 L1844 812.5 L1845 811.2 L1846 811.3 L1847 811.6 L1848 811.1 L1849 811.5 L1850 811.3 L1851 811.2 L1852 811.8 L1853 811.9 L1854 811.9 L1855 812.2 L1856 811.8 L1857 812.5 L1858 811.2 L1859 811.4 L1860 811.2 L1861 811.5 L1862 812.2 L1863 812.4 L1864 811.8 L1865 811.3 L1866 811.5 L1867 811.9 L1868 811.5 L1869 812.2 L1870 811.8" fill="none" stroke="#0070C0" stroke-width="4.7" stroke-linejoin="miter" stroke-miterlimit="1.5"/>
<path d="M139.5 292 L140 292 L141 292 L142 291.9 L143 292.6 L144 291.7 L145 291.3 L146 292.3 L146.5 292 M148 555.6 L149 555.3 L150 555.1 L151 555.4 L152 554.7 L153 555.1 L154 554.4 L155 554.4 L156 554.9 L157 555 L158 554.8 L159 554.3 L160 557.5 L161 557.5 L162 557.5 L163 554.7 L164 554.8 L165 554.6 L166 554.4 L167 555.6 L168 555.7 L169 555.2 L170 555.5 L171 554.9 L172 555.5 L173 554.6 L174 555.4 L175 555.1 L176 555.6 L177 554.4 L178 555.4 L179 554.4 L180 555.1 L181 557.5 L182 557.5 L183 557.5 L184 554.7 L185 553 L186 553 L187 555.6 L188 555.5 L189 554.8 L190 554.8 L191 555.1 L192 554.3 L193 554.3 L194 555.6 L195 554.7 L196 555 L197 555.7 L198 552 L199 552 L200 552 L201 552 L202 552 L203 555.6 L203.5 555 M215.5 310.5 L216.5 311.5 L217.5 310.8 L218.5 311 L219.5 310.5 L220.5 311.6 L221.5 311.7 L222.5 310.6 L223.5 311.2 L224.5 313 L225.5 313 L226.5 313 L227.5 313 L228.5 311.3 L229.5 310.7 L230.5 311.6 L231.5 311.6 L232.5 311.3 L233.5 310.5 L234.5 311.3 L235.5 311.7 L236.5 310.9 L237.5 310.4 L238.5 309 L239.5 309 L240.5 309 L241.5 310.5 L242.5 310.5 L243.5 310.6 L244.5 311.2 L245.5 311.4 L246.5 310.8 L247.5 311.2 L248.5 311.6 L249.5 311.1 L250.5 310.6 L251.5 310.7 L252.5 311.6 L253.5 311 L254 311 M255.5 555.3 L256.5 554.7 L257.5 555.2 L258.5 554.4 L259.5 555.7 L260.5 554.9 L261.5 555 L262.5 555 L263.5 554.3 L264.5 555.1 L265.5 554.7 L266.5 554.6 L267.5 555.5 L268.5 554.4 L269.5 554.7 L270.5 555.4 L271.5 554.6 L272.5 554.7 L273.5 555.1 L274.5 554.5 L275.5 555.6 L276.5 555.7 L277.5 554.3 L278.5 554.9 L279.5 555.4 L280.5 554.8 L281.5 557.5 L282.5 557.5 L283.5 554.5 L284.5 555.1 L285.5 555.2 L286.5 554.8 L287.5 555.2 L288.5 555.4 L289.5 553.5 L290.5 553.5 L291.5 553.5 L292.5 555.3 L293.5 555 L294.5 555.7 L295.5 554.5 L296.5 555.4 L297.5 554.5 L298.5 555.2 L299.5 554.6 L300.5 554.9 L301.5 555.4 L302.5 555.4 L303.5 555.4 L304.5 554.6 L305.5 555 L306.5 554.6 L307.5 555.1 L308.5 555 L309.5 554.3 L310.5 555.1 L311.5 555.3 L312.5 557 L313.5 557 L314.5 557 L315.5 557 L316.5 554.3 L317.5 555 L318.5 554.9 L319.5 554.9 L320.5 554.6 L321.5 555.4 L322.5 554.4 L323.5 555.6 L324.5 555.1 L325.5 555.1 L326.5 555.4 L327.5 554.6 L328.5 554.5 L329.5 554.7 L330.5 554.3 L331.5 554.7 L332.5 555.2 L333.5 555 L334.5 554.6 L335.5 555.1 M337.5 555.5 L338.5 554.5 L339.5 554.6 L340.5 554.5 L341.5 555.3 L342.5 555.5 L343.5 555.4 L344.5 554.3 L345.5 554.9 L346.5 554.8 L347.5 554.6 L348.5 555.7 L349.5 554.3 L350.5 555 L351.5 555.4 L352.5 555.7 L353.5 554.5 L354.5 554.9 L355.5 555.4 L356.5 554.3 L357.5 554.6 L358.5 555.6 L359.5 554.5 L360.5 554.8 L361.5 554.7 L362.5 554.9 L363.5 554.4 L364.5 554.3 L365.5 555.7 L366.5 555.4 L367.5 555.4 L368.5 554.6 L369.5 554.6 L370.5 555.1 L371.5 554.6 L372.5 554.9 L373.5 555.6 L374.5 554.8 L375.5 554.8 L376.5 555.7 L377.5 555.2 L378.5 554.3 L379.5 554.9 L380.5 555.2 L381.5 554.3 L382.5 554.8 L383.5 555.3 L384.5 555.5 L385.5 555.1 L386.5 555.6 L387.5 554.9 L388.5 554.8 L389.5 555.5 L390.5 554.8 L391.5 555.4 L392.5 554.6 L393.5 554.8 L394.5 554.5 L395.5 555.1 L396.5 554.5 L397.5 554.6 L398.5 554.6 L399.5 555 L400.5 554.7 L401.5 554.9 L402.5 555.7 L403.5 555.3 L404.5 555.5 L405.5 555 M405.5 941.2 L408.5 941.3 L411.5 941.1 L414.5 941.4 L417.5 941.2 L420.5 941.2 L423.5 941.1 L426.5 941.2 L429.5 941.2 L432.5 941.3 L434 941.3 M434 940.6 L436 940.5 L438 940.1 L440 940.2 L442 940 L444 940.6 L446 940.2 L448 940.5 L450 940.5 L452 940.6 L454 939.9 L456 940.2 L458 940.2 L460 940 L462 940.6 L464 940.2 L466 940.5 L468 940.3 L470 939.9 L472 940.2 L474 940.1 L475.5 940.3 M478 592.8 L479 593 L480 593.6 L481 592.8 L482 593.2 L483 593.4 L484 593.6 L485 595 L486 595 L487 595 L488 595 L489 595 L490 595 L491 593.1 L492 593.2 L493 593.8 L494 593.4 L495 593.3 L496 594 L497 593.1 L498 593.2 L499 593.3 L500 593.1 L501 592.8 L502 592.8 L503 593.7 L504 593.6 L505 594 L506 594.2 L507 593.2 L508 593.8 L509 594.1 L510 593.1 L511 593.8 L512 593.7 L513 594.2 L514 594.1 L515 593.1 L516 593.7 L517 592.9 L518 593.4 L519 593.3 L520 592.8 L521 593.3 L522 593.2 L523 593.5 L524 593.5 L524.5 593.5 M529.3 811.8 L529.5 811.5 L530.5 811.3 L531.5 811.7 L532.5 811.8 L533.5 811.3 L534.5 812 L535.5 811.4 L536.5 811.2 L537.5 811.6 L538.5 811.7 L539.5 811.3 L540.5 811.9 L541.5 812.1 L542.5 811.9 L543.5 812.1 L544.5 811.1 L545.5 811.6 L546.5 811.6 L547.5 811.1 L548.5 811.7 L549.5 811.1 L550.5 811.8 L551.5 810 L552.5 810 L553.5 810 L554.5 810 L555.5 810 L556.5 811.6 L557.5 812.4 L558.5 811.9 L559.5 811.4 L560.5 812.1 L561.5 811.3 L562.5 811.8 L563.5 812 L564.5 812.5 L565.5 811.6 L566.5 811.9 L567.5 812.5 L568.5 812.2 L569.5 812 L570.5 812 L571.5 811.7 L572.5 811.7 L573.5 811.5 L574.5 812.3 L575.5 812.4 L576.5 811.6 L577.5 812.4 L578.5 811.1 L579.5 811.3 L580.5 811.8 L581.5 811.5 L582.5 811.6 L583.5 812.5 L584.5 811.3 L585.5 811.3 L586.5 811.4 L587.5 812.1 L588.5 811.4 L589.5 811.1 L590.5 811.9 L591.5 811.6 L592.5 811.4 L593.5 811.8 L594.5 812 L595.5 811.9 L596.5 812 L597.5 811.9 L598.5 812.3 L599.5 812.5 L600.5 813.8 L601.5 813.8 L602.5 813.8 L603.5 813.8 L604.5 812.1 L605.5 812.1 L606.5 812.1 L607.5 812.5 L608.5 812.3 L609.5 811.3 L610.5 812 L611.5 811.8 L612.5 811.9 L613.5 811.6 L614.5 811.5 L615.5 812.2 L616.5 811.9 L617.5 811.4 L618.5 811.4 L619.5 811.5 L620.5 811.3 L621.5 811.8 L622.5 811.2 L623.5 811.1 L624.5 811.2 L625.5 811.2 L626.5 812.1 L627.5 811.2 L628.5 811.7 L629.5 812.2 L630.5 811.8 L631.5 811.3 L632.5 812.3 L633.5 812.4 L634.5 811.1 L635.5 811.4 L636.5 811.8 L637.5 812.2 L638.5 813.5 L639.5 813.5 L640.5 813.5 L641.5 813.5 L642.5 811.5 L643.5 811.6 L644.5 812.2 L645.5 812.3 L646.5 812.3 L647.5 811.9 L648.5 811.7 L649.5 812.1 L650.5 812 L651.5 812.3 L652.5 812.3 L653.5 811.2 L654.5 811.6 L655.5 812.1 L656.5 811.4 L657.5 811.3 L658.5 811.1 L659.5 811.9 L660.5 812.5 L661.5 812.5 L662.5 811.3 L663.5 812.1 L664.5 811.7 L665.5 812 L666.5 811.6 L667.5 812.5 L668.5 812.5 L669.5 811.1 L670.5 812.1 L671.5 811.2 L672.5 811.1 L673.5 811.5 L674.5 812.1 L675.5 812.5 L676.5 811.2 L677.5 811.5 L678.5 811.1 L679.5 811.9 L680.5 811.8 L681 811.8 M681 941.2 L684 941.2 L687 941.4 L690 941.4 L693 941.2 L696 941.3 L699 941.3 L702 941.4 L705 941.3 M705 940.6 L707 940.1 L709 940.4 L711 940.2 L713 940.4 L715 939.9 L717 939.9 L719 939.9 L721 940.5 L723 940 L725 940.2 L727 939.9 L729 940.1 L731 939.8 L733 940.3 L735 939.9 L737 940.3 L739 940 L741 940 L743 940.2 L745 940.1 L747 940 L749 939.8 L751 939.9 L753 940.5 L755 940 L757 939.9 L759 939.9 L761 940.2 L763 940.6 L765 940 L767 940.5 L769 940.2 L771 940.1 L773 940.4 L775 940.1 L777 939.8 L779 940.2 L781 940.3 L783 940.3 L785 940 L787 940.6 L789 940.5 L791 940.6 L793 940.2 L795 940.5 L797 940.4 L799 939.9 L801 939.8 L803 939.9 L805 939.9 L807 939.9 L809 940.1 L811 940.4 L813 940 L815 940.2 L817 939.8 L819 940 L821 940.6 L823 939.8 L825 940.2 L827 940.4 L829 940.4 L831 940.4 L833 940.1 L835 940.4 L837 940.5 L839 940.4 L841 940.6 L842.5 940.2 M843.7 940.8 L846.7 941.3 L849.7 940.9 L852.7 941.1 L855.7 940.9 L858.7 941.2 L861.7 940.7 L864.7 941 L867.7 940.8 L870.7 940.9 L873.7 940.9 L876.7 941.1 L879.7 941.2 L882.7 940.9 L885.7 941.1 L888.7 940.9 L891.7 940.9 L894.7 941.2 L897.7 940.9 L900.7 940.8 L903.7 940.9 L906.7 941.1 L909.7 940.8 L912.7 941.1 L915.7 941 L918.7 941.1 L921.7 940.8 L924.7 940.8 L927.7 940.8 L930.7 940.9 L933.7 941 L936.7 940.7 L939.7 941 L942.7 940.9 L945.7 940.9 L948.7 941 L951.7 941.3 L954.7 940.8 L957.7 941.2 L960.7 940.9 L963.7 941.2 L966.7 940.8 L969.7 941.3 L972.7 941 L975.7 941.3 L978.7 940.8 L981.7 940.9 L984.7 941.1 L987.7 940.8 L990.7 940.9 L993.7 941.1 L996.7 941.3 L999.7 940.9 L1002.7 940.8 L1005.7 940.9 L1008.7 941.3 L1011.7 940.8 L1014.7 941.1 L1017.7 940.9 L1020.7 941.1 L1023.7 940.8 L1026.7 941.1 L1029.5 941 M1030.5 594.6 L1031.5 594.5 L1032.5 594.2 L1033.5 594 L1034.5 594.1 L1035.5 593.4 L1036.5 594.5 L1037.5 594.3 L1038.5 593.9 L1039.5 594.2 L1040.5 593.9 L1041.5 593.8 L1042.5 592 L1043.5 592 L1044.5 592 L1045.5 592 L1046.5 593.3 L1047.5 594.2 L1048.5 593.9 L1049.5 594.1 L1050.5 594.1 L1051.5 594.6 L1052.5 593.5 L1053.5 594 L1054.5 594.7 L1055.5 594.4 L1056.5 593.7 L1057.5 594.4 L1058.5 594.7 L1059.5 593.9 L1060.5 594.6 L1061.5 593.4 L1062.5 594.7 L1063.5 594 L1064.5 593.6 L1065.5 594.5 L1066.5 594.2 L1067.5 594.7 L1068.5 594.5 L1069.5 594.4 L1070.5 594 L1071.5 594.7 L1072.5 593.3 L1073.5 594.6 L1074.5 594.3 L1075.5 593.6 L1076.5 594.5 L1077.5 593.9 L1078.5 594.1 L1079.5 594.5 L1080.5 593.5 L1081.5 593.7 L1082.5 594.2 L1083.5 593.4 L1084.5 594.1 L1085.5 594.4 L1086.5 594 L1087.5 593.6 L1088.5 594.4 L1089.5 594.5 L1090.5 594.4 L1091.5 594.1 L1092.5 594.6 L1093.5 594.4 L1094.5 593.5 L1095.5 593.8 L1096.5 593.4 L1097.5 593.3 L1098.5 593.8 L1099.5 594.5 L1100.5 594.5 L1101.5 593.4 L1102.5 593.5 L1103.5 593.8 L1104.5 594.5 L1105.5 594.2 L1106.5 594.6 L1107.5 593.4 L1108.5 594.7 L1109.5 593.6 L1110.5 594.2 L1111.5 594.6 L1112.5 594.3 L1113.5 593.5 L1114.5 594.3 L1115.5 593.9 L1116.5 593.3 L1117.5 593.8 L1118.5 593.7 L1119.5 594.2 L1120.5 593.7 L1121.5 594.2 L1122.5 594.3 L1123.5 593.5 L1124.5 593.4 L1125.5 594.3 L1126.5 593.9 L1127.5 593.4 L1128.5 593.4 L1129.5 594.7 L1130.5 594.2 L1131.5 593.8 L1132.5 593.5 L1133.5 594.7 L1134.5 594.3 L1135.5 594.4 L1136.5 593.8 L1137.5 593.7 L1138.5 593.9 L1139.5 593.5 L1140.5 594.2 L1141.5 593.9 L1142.5 594.5 L1143.5 593.9 L1144.5 593.9 L1145.5 594 L1146.5 594.7 L1147.5 593.8 L1148.5 594.3 L1149.5 593.6 L1150.5 592.5 L1151.5 592.5 L1152.5 592.5 L1153.5 592.5 L1154.5 594.5 L1155.5 594.3 L1156.5 593.9 L1157.5 594.7 L1158.5 593.8 L1159.5 594.4 L1160.5 594.2 L1161.5 593.9 L1162.5 593.3 L1163.5 593.9 L1164.5 593.7 L1165.5 593.9 L1166.5 594.7 L1167.5 593.7 L1168.5 594.3 L1169.5 594.3 L1170.5 593.6 L1171.5 593.9 L1172.5 593.4 L1173.5 594.6 L1174.5 593.6 L1175.5 593.9 L1176.5 593.8 L1177.5 594.5 L1178.5 594.5 L1179.5 594.1 L1180.5 594.1 L1181.5 593.4 L1182.5 594.6 L1183.5 593.4 L1184.5 593.8 L1185.5 593.8 L1186.5 594.3 L1187.5 594.3 L1188.5 593.8 L1189.5 594.6 L1190.5 594.7 L1191.5 593.3 L1192.5 594.2 L1193.5 594 L1194.5 593.8 L1195.5 593.9 L1196.5 593.7 L1197.5 594.3 L1198.5 594.2 L1199.5 594.7 L1200.5 594.7 L1201.5 594.7 L1202.5 593.8 L1203.5 594.5 L1204.5 594.2 L1205.5 594.3 L1206.5 594.7 L1207.5 593.3 L1208.5 594 M1212.5 811.7 L1213.5 811.7 L1214.5 812 L1215.5 811.4 L1216.5 812.5 L1217.5 811.4 L1218.5 811.6 L1219.5 811.3 L1220.5 811.6 L1221.5 812.2 L1222.5 811.2 L1223.5 811.3 L1224.5 812 L1225.5 812 L1226.5 812.2 L1227.5 811.4 L1228.5 812.3 L1229.5 812.1 L1230.5 812.2 L1231.5 811.2 L1232.5 811.8 L1233.5 811.1 L1234.5 812.3 L1235.5 812.5 L1236.5 812.4 L1237.5 811.1 L1238.5 811.6 L1239.5 811.9 L1240.5 811.9 L1241.5 811.2 L1242.5 812.2 L1243.5 811.5 L1244.5 811.8 L1245.5 810 L1246.5 810 L1247.5 810 L1248.5 810 L1249.5 811.8 L1250.5 811.5 L1251.5 812.2 L1252.5 811.4 L1253.5 811.7 L1254.5 811.1 L1255.5 811.4 L1256.5 811.7 L1257.5 811.9 L1258.5 811.7 L1259.5 812.3 L1260.5 811.2 L1261.5 812.3 L1262.5 811.3 L1263.5 812.5 L1264.5 811.8 L1265.5 811.7 L1266.5 812 L1267.5 812.3 L1268.5 812.5 L1269.5 811.7 L1270.5 811.1 L1271.5 811.3 L1272.5 812.3 L1273.5 812.2 L1274.5 812.1 L1275.5 811.3 L1276.5 810 L1277.5 810 L1278.5 810 L1279.5 811.5 L1280.5 812.5 L1281.5 812 L1282.5 812.3 L1283.5 811.1 L1284.5 811.7 L1285.5 811.2 L1286.5 811.4 L1287.5 811.2 L1288.5 812.4 L1289.5 811.5 L1290.5 811.8 L1291.5 812 L1292.5 812.4 L1293.5 812.5 L1294.5 811.9 L1295.5 811.8 L1296.5 812.4 L1297.5 811.6 L1298.5 811.5 L1299.5 812.2 L1300.5 811.4 L1301.5 811.6 L1302.5 811.7 L1303.5 811.8 L1304.5 811.6 L1305.5 811.7 L1306.5 811.7 L1307.5 811.1 L1308.5 812.3 L1309.5 811.1 L1310.5 811.8 L1311.5 811.9 L1312.5 811.6 L1313.5 811.4 L1314.5 811.2 L1315.5 811.6 L1316.5 811.5 L1317.5 811.8 L1318.5 811.4 L1319.5 812.2 L1320.5 811.8 L1321.5 811.1 L1322.5 811.7 L1323.5 812.5 L1324.5 811.1 L1325.5 811.9 L1326.5 812.5 L1327.5 811.6 L1328.5 811.9 L1329.5 811.6 L1330.5 811.5 L1331.5 812 L1332.5 811.9 L1333.5 811.5 L1334.5 811.8 L1335.5 811.8 L1336.5 812.2 L1337.5 810 L1338.5 810 L1339.5 810 L1340.5 811.5 L1341.5 812.2 L1342.5 811.7 L1343.5 812.3 L1344.5 811.7 L1345.5 811.5 L1346.5 812.1 L1347.5 811.2 L1348.5 812.5 L1349.5 812.3 L1350.5 811.5 L1351.5 811.5 L1352.5 812.3 L1353.5 812.2 L1354.5 812 L1355.5 811.1 L1356.5 812.2 L1357.5 811.1 L1358.5 812 L1359.5 811.9 L1360.5 812.4 L1361.5 812 L1362.5 811.1 L1362.7 811.8 M1362.7 941.1 L1364.7 941 L1366.7 940.9 L1368.7 940.4 L1370.7 941 L1372.7 940.7 L1374.7 940.9 L1376.7 941.2 L1378.7 941.1 L1380.7 940.5 L1382.7 941 L1384.7 940.8 L1386.7 941 L1388.7 940.7 L1390.7 940.8 L1392.7 940.7 L1394.7 940.5 L1396.7 940.7 L1398.7 941 L1400.7 940.5 L1402.7 940.5 L1404.7 941.1 L1406.7 940.9 L1408.7 940.8 L1410.7 940.5 L1412.7 940.5 L1414.7 940.6 L1416.7 941.2 L1418.7 940.8 L1420.7 941.1 L1422.7 940.6 L1424.7 940.7 L1426.7 940.8 L1428.7 941.1 L1430.7 940.5 L1432.7 941.1 L1434.7 940.8 L1436.7 940.4 L1438.7 940.7 L1440.7 940.7 L1442.7 940.9 L1444.7 941.1 L1446.7 940.8 L1448.7 941 L1450.7 940.7 L1452.7 941 L1454.7 940.5 L1456.7 941 L1458.7 940.5 L1460.7 940.9 L1462.7 940.6 L1464.7 940.7 L1466.7 940.5 L1468.7 940.7 L1470.7 940.9 L1472.7 940.8 L1474.7 940.7 L1476.7 940.9 L1478.7 941.1 L1480.7 940.7 L1482.7 940.9 L1484.7 940.8 L1486.7 941.2 L1488.7 940.7 L1490.7 941 L1492.7 940.6 L1494.7 940.6 L1496.7 941 L1498.7 940.9 L1500.7 940.6 L1502.7 940.5 L1504.7 941.1 L1506.7 940.7 L1508.7 941 L1510.7 940.7 L1512.7 940.9 L1514.7 940.8 L1516.7 941.2 L1518.7 941.1 L1520.7 940.8 L1522.7 940.8 L1524.7 940.6 L1526.7 941 L1528.7 940.5 L1530.7 940.6 L1532.7 941.1 L1534.7 940.4 L1536.7 941 L1538.7 940.9 L1540.3 940.8 M1541.5 941 L1544.5 940.9 L1547.5 940.8 L1550.5 941.3 L1553.5 941.2 L1556.5 941.2 L1559.5 940.8 L1562.5 941.2 L1565.5 940.8 L1568.5 940.8 L1571.5 941 L1574.5 941.1 L1577.5 940.8 L1580.5 941.2 L1583.5 941 L1586.5 941.2 L1589.5 941.3 L1592.5 941.1 L1595.5 940.9 L1598.5 941.3 L1601.5 941.1 L1604.5 940.9 L1607.5 941.2 L1610.5 941.1 L1613.5 940.9 L1616.5 940.8 L1619.5 940.7 L1622.5 941 L1625.5 940.9 L1628.5 940.9 L1631.5 940.9 L1634.5 940.8 L1637.5 941 L1640.5 940.9 L1643.5 940.9 L1646.5 940.9 L1649.5 941 L1652.5 941.2 L1655.5 940.8 L1658.5 941.2 L1661.5 941.2 L1664.5 941.1 L1667.5 941 M1668 594.1 L1669 594.4 L1670 594.1 L1671 594.2 L1672 594.6 L1673 594.4 L1674 593.6 L1675 593.3 L1676 594.7 L1677 593.8 L1678 594.4 L1679 593.6 L1680 593.9 L1681 593.8 L1682 594.3 L1683 594.7 L1684 594 L1685 594.1 L1686 593.8 L1687 593.6 L1688 594.7 L1689 593.4 L1690 594.7 L1691 594.2 L1692 593.4 L1693 594.6 L1694 593.4 L1695 594.1 L1696 593.4 L1697 594.7 L1698 593.7 L1699 594.6 L1700 592 L1701 592 L1702 592 L1703 592 L1704 594.1 L1705 594.7 L1706 594.3 L1707 594.5 L1708 594.4 L1709 594 L1710 593.4 L1711 594 L1712 593.5 L1713 594 L1714 593.8 L1715 594 L1716 593.5 L1717 594.3 L1718 593.9 L1719 594 L1720 593.4 L1721 594 L1722 594.1 L1723 594.7 L1724 594.1 L1725 593.5 L1726 593.7 L1727 593.8 L1728 594.3 L1729 594.7 L1730 594.7 L1731 594.7 L1732 594.6 L1733 594.5 L1734 594.7 L1735 593.3 L1736 594 L1737 594.1 L1738 594.3 L1739 594.2 L1740 594.2 L1741 594.6 L1742 593.4 L1743 594 L1744 594.7 L1745 593.3 L1746 593.4 L1747 594.6 L1748 594.7 L1749 593.3 L1750 593.3 L1751 594.5 L1752 594.3 L1753 594 L1754 594.1 L1755 594.4 L1756 594.5 L1757 593.3 L1758 593.4 L1759 594.4 L1760 594.7 L1761 594.5 L1762 593.9 L1763 593.8 L1764 593.8 L1765 593.3 L1766 594.4 L1767 593.6 L1768 594.1 L1769 594 L1770 593.8 L1771 594.3 L1772 593.9 L1773 593.6 L1774 594.6 L1775 593.5 L1776 593.5 L1777 593.6 L1778 594 L1779 594.4 L1780 593.7 L1781 593.6 L1782 594.2 L1783 593.6 L1784 594 L1784.5 594 M1787 811.4 L1788 812.4 L1789 811.3 L1790 811.4 L1791 811.5 L1792 811.5 L1793 812.1 L1794 812.1 L1795 812.2 L1796 811.9 L1797 811.2 L1798 812.2 L1799 811.4 L1800 811.4 L1801 811.7 L1802 812.5 L1803 811.6 L1804 811.6 L1805 812.4 L1806 812.5 L1807 811.6 L1808 811.3 L1809 812.2 L1810 812.2 L1811 811.6 L1812 812.2 L1813 811.6 L1814 811.5 L1815 811.9 L1816 812.2 L1817 811.8 L1818 812.3 L1819 811.1 L1820 811.8 L1821 811.6 L1822 811.1 L1823 812.4 L1824 811.3 L1825 811.4 L1826 812.4 L1827 812.5 L1828 812.4 L1829 811.6 L1830 812.4 L1831 811.3 L1832 812.1 L1833 812.5 L1834 811.3 L1835 811.3 L1836 812.1 L1837 812.4 L1838 812.1 L1839 812.5 L1840 811.7 L1841 811.6 L1842 811.2 L1843 811.5 L1844 812.5 L1845 811.2 L1846 811.3 L1847 811.6 L1848 811.1 L1849 811.5 L1850 811.3 L1851 811.2 L1852 811.8 L1853 811.9 L1854 811.9 L1855 812.2 L1856 811.8 L1857 812.5 L1858 811.2 L1859 811.4 L1860 811.2 L1861 811.5 L1862 812.2 L1863 812.4 L1864 811.8 L1865 811.3 L1866 811.5 L1867 811.9 L1868 811.5 L1869 812.2 L1870 811.8" fill="none" stroke="#0070C0" stroke-width="5.3" stroke-linejoin="round"/>
</g>
<path d="M139.5 852.3H1868" stroke="#262626" stroke-opacity="0.14" stroke-width="1.4" fill="none"/><path d="M139.5 762.3H1868" stroke="#262626" stroke-opacity="0.14" stroke-width="1.4" fill="none"/><path d="M139.5 672.4H1868" stroke="#262626" stroke-opacity="0.14" stroke-width="1.4" fill="none"/><path d="M139.5 582.4H1868" stroke="#262626" stroke-opacity="0.14" stroke-width="1.4" fill="none"/><path d="M139.5 492.5H1868" stroke="#262626" stroke-opacity="0.14" stroke-width="1.4" fill="none"/><path d="M139.5 402.6H1868" stroke="#262626" stroke-opacity="0.14" stroke-width="1.4" fill="none"/><path d="M139.5 312.6H1868" stroke="#262626" stroke-opacity="0.14" stroke-width="1.4" fill="none"/><path d="M139.5 222.7H1868" stroke="#262626" stroke-opacity="0.14" stroke-width="1.4" fill="none"/><path d="M139.5 132.7H1868" stroke="#262626" stroke-opacity="0.14" stroke-width="1.4" fill="none"/><path d="M291.1 42.8V942.2" stroke="#262626" stroke-opacity="0.14" stroke-width="1.4" fill="none"/><path d="M442.7 42.8V942.2" stroke="#262626" stroke-opacity="0.14" stroke-width="1.4" fill="none"/><path d="M594.4 42.8V942.2" stroke="#262626" stroke-opacity="0.14" stroke-width="1.4" fill="none"/><path d="M746 42.8V942.2" stroke="#262626" stroke-opacity="0.14" stroke-width="1.4" fill="none"/><path d="M897.6 42.8V942.2" stroke="#262626" stroke-opacity="0.14" stroke-width="1.4" fill="none"/><path d="M1049.2 42.8V942.2" stroke="#262626" stroke-opacity="0.14" stroke-width="1.4" fill="none"/><path d="M1200.9 42.8V942.2" stroke="#262626" stroke-opacity="0.14" stroke-width="1.4" fill="none"/><path d="M1352.5 42.8V942.2" stroke="#262626" stroke-opacity="0.14" stroke-width="1.4" fill="none"/><path d="M1504.1 42.8V942.2" stroke="#262626" stroke-opacity="0.14" stroke-width="1.4" fill="none"/><path d="M1655.7 42.8V942.2" stroke="#262626" stroke-opacity="0.14" stroke-width="1.4" fill="none"/><path d="M1807.4 42.8V942.2" stroke="#262626" stroke-opacity="0.14" stroke-width="1.4" fill="none"/>
<rect x="365.5" y="82.5" width="101" height="40.5" fill="#FEE481" stroke="#FFC800" stroke-width="6.5"/><path d="M366 159.6H467" stroke="#40E0D0" stroke-width="4.4"/><path d="M996 102.8H1097" stroke="#D22D00" stroke-width="4.2"/><path d="M996 159.7H1097" stroke="#0070C0" stroke-width="4.4"/><g font-family="'DejaVu Sans','Liberation Sans',sans-serif" font-size="41.3" fill="#111"><text x="474.1" y="118.9" textLength="502.8" lengthAdjust="spacing">PV-Überschussleistung</text><text x="474" y="175.6" textLength="56.7" lengthAdjust="spacing">A1</text><text x="1104.7" y="118.9" textLength="535.2" lengthAdjust="spacing">Amperfied connect.solar</text><text x="1105.6" y="175.8" textLength="392.2" lengthAdjust="spacing">Kostal Enector AC</text></g>
<path d="M139.5 942.2h18M1868 942.2h-18M139.5 852.3h18M1868 852.3h-18M139.5 762.3h18M1868 762.3h-18M139.5 672.4h18M1868 672.4h-18M139.5 582.4h18M1868 582.4h-18M139.5 492.5h18M1868 492.5h-18M139.5 402.6h18M1868 402.6h-18M139.5 312.6h18M1868 312.6h-18M139.5 222.7h18M1868 222.7h-18M139.5 132.7h18M1868 132.7h-18M139.5 42.8h18M1868 42.8h-18M139.5 942.2v-18M139.5 42.8v18M291.1 942.2v-18M291.1 42.8v18M442.7 942.2v-18M442.7 42.8v18M594.4 942.2v-18M594.4 42.8v18M746 942.2v-18M746 42.8v18M897.6 942.2v-18M897.6 42.8v18M1049.2 942.2v-18M1049.2 42.8v18M1200.9 942.2v-18M1200.9 42.8v18M1352.5 942.2v-18M1352.5 42.8v18M1504.1 942.2v-18M1504.1 42.8v18M1655.7 942.2v-18M1655.7 42.8v18M1807.4 942.2v-18M1807.4 42.8v18" stroke="#262626" stroke-opacity="0.75" stroke-width="1.7" fill="none"/>
<rect x="139.5" y="42.8" width="1728.5" height="899.4" fill="none" stroke="#262626" stroke-opacity="0.75" stroke-width="1.7"/>
<g font-family="'DejaVu Sans','Liberation Sans',sans-serif" font-size="41.8" fill="#262626"><text x="121.8" y="959" text-anchor="end">0</text><text x="121.8" y="869.1" text-anchor="end">1</text><text x="121.8" y="779.1" text-anchor="end">2</text><text x="121.8" y="689.2" text-anchor="end">3</text><text x="121.8" y="599.2" text-anchor="end">4</text><text x="121.8" y="509.3" text-anchor="end">5</text><text x="121.8" y="419.4" text-anchor="end">6</text><text x="121.8" y="329.4" text-anchor="end">7</text><text x="121.8" y="239.5" text-anchor="end">8</text><text x="121.8" y="149.5" text-anchor="end">9</text><text x="121.8" y="59.6" text-anchor="end">10</text><text x="139.5" y="1002.1" text-anchor="middle">0</text><text x="291.1" y="1002.1" text-anchor="middle">5</text><text x="442.7" y="1002.1" text-anchor="middle">10</text><text x="594.4" y="1002.1" text-anchor="middle">15</text><text x="746" y="1002.1" text-anchor="middle">20</text><text x="897.6" y="1002.1" text-anchor="middle">25</text><text x="1049.2" y="1002.1" text-anchor="middle">30</text><text x="1200.9" y="1002.1" text-anchor="middle">35</text><text x="1352.5" y="1002.1" text-anchor="middle">40</text><text x="1504.1" y="1002.1" text-anchor="middle">45</text><text x="1655.7" y="1002.1" text-anchor="middle">50</text><text x="1807.4" y="1002.1" text-anchor="middle">55</text></g>
<text x="884.9" y="1061.4" font-family="'DejaVu Sans','Liberation Sans',sans-serif" font-size="41.3" fill="#262626" textLength="237" lengthAdjust="spacing">Zeit in min</text>
<text transform="translate(44.1 655.5) rotate(-90)" font-family="'DejaVu Sans','Liberation Sans',sans-serif" font-size="41.3" fill="#262626" textLength="323.2" lengthAdjust="spacing">Leistung in kW</text>
<text transform="translate(1902.6 944) rotate(-90)" font-family="'DejaVu Sans','Liberation Sans',sans-serif" font-size="33.3" fill="#66B41E"><tspan x="-2" font-size="39">©</tspan><tspan x="46" textLength="331" lengthAdjust="spacing">solar.htw-berlin.de,</tspan><tspan x="390">Daten:</tspan><tspan x="512.5">Fraunhofer</tspan><tspan x="711" font-family="DejaVu Sans Mono, monospace" font-size="35">I</tspan><tspan x="730.5">S</tspan><tspan x="749.7">E</tspan></text>
</svg>
</body></html>
